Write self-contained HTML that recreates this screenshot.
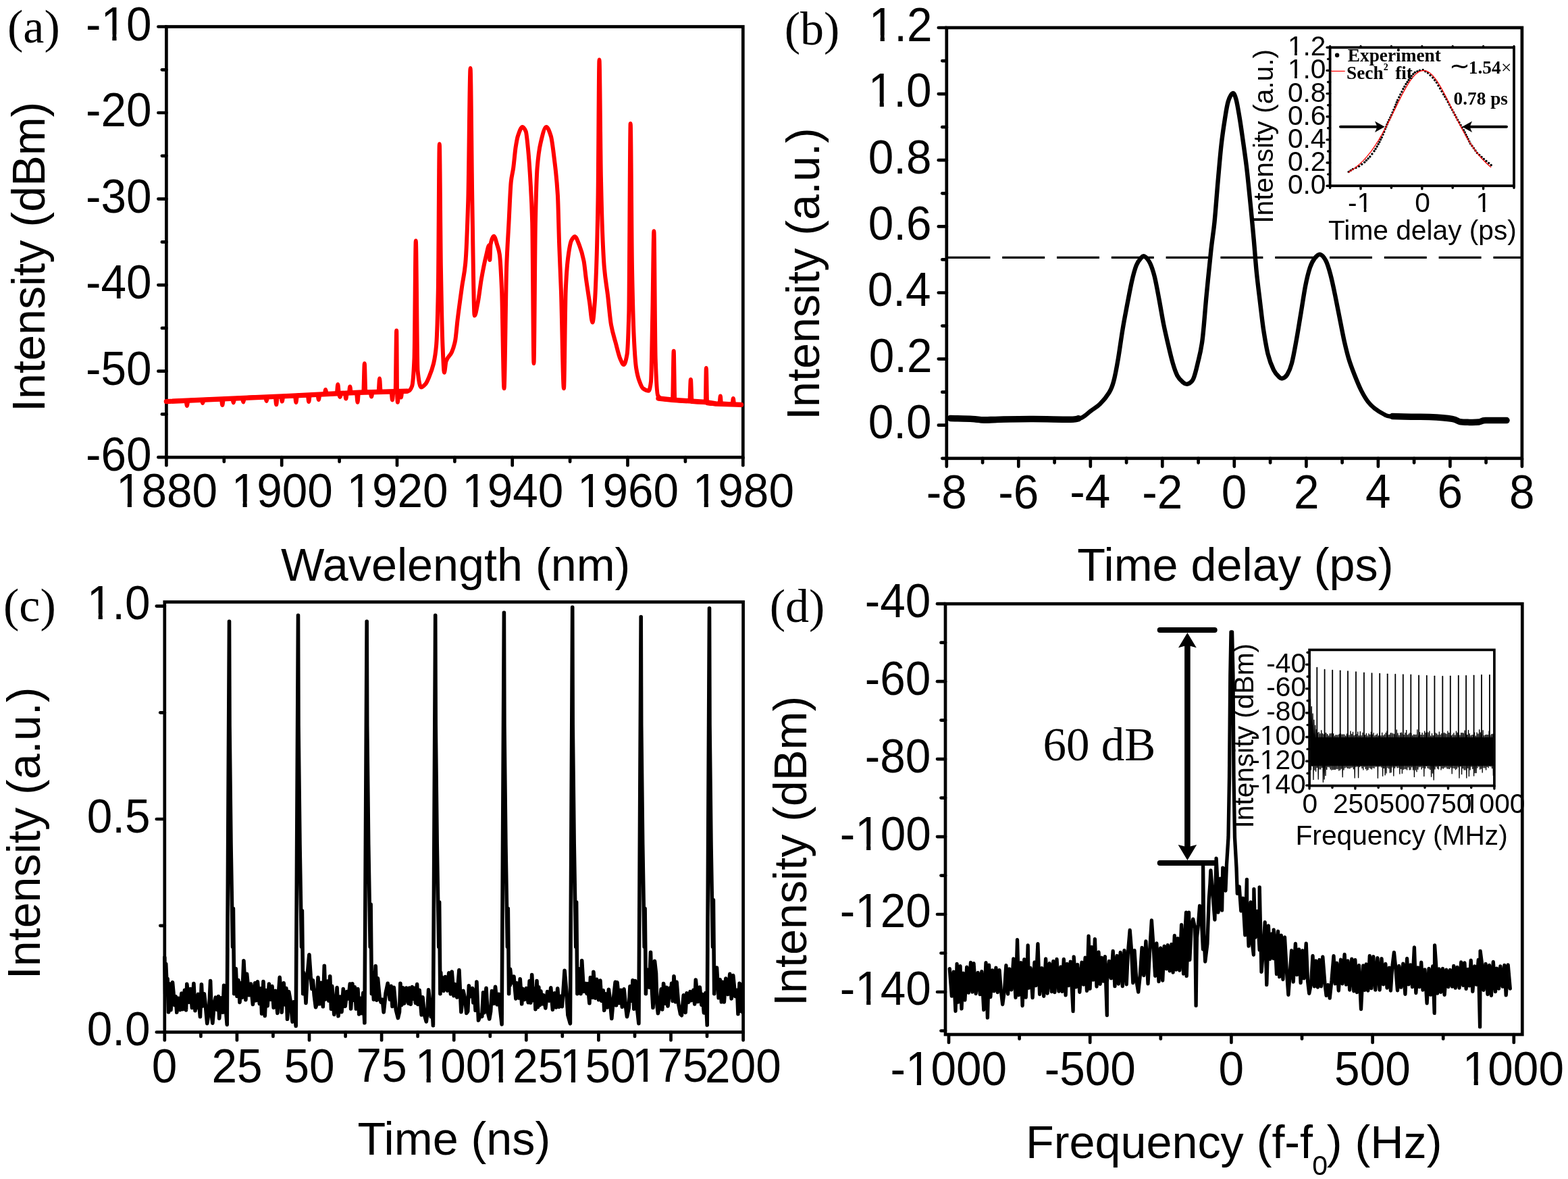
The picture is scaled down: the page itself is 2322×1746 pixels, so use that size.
<!DOCTYPE html><html><head><meta charset="utf-8"><style>html,body{margin:0;padding:0;background:#fff;}svg{display:block}</style></head><body><svg width="2322" height="1746" viewBox="0 0 2322 1746"><rect width="2322" height="1746" fill="#fff"/><rect x="246.4" y="39.5" width="853.9" height="637.7" fill="none" stroke="#000" stroke-width="4.70"/><rect x="1401.8" y="41.0" width="852.1" height="637.8" fill="none" stroke="#000" stroke-width="4.70"/><rect x="243.8" y="891.5" width="856.8" height="637.0" fill="none" stroke="#000" stroke-width="4.70"/><rect x="1400.0" y="894.2" width="854.3" height="637.8" fill="none" stroke="#000" stroke-width="4.70"/><line x1="234.4" y1="677.2" x2="246.4" y2="677.2" stroke="#000" stroke-width="4.70" stroke-linecap="round"/><line x1="234.4" y1="549.7" x2="246.4" y2="549.7" stroke="#000" stroke-width="4.70" stroke-linecap="round"/><line x1="234.4" y1="422.1" x2="246.4" y2="422.1" stroke="#000" stroke-width="4.70" stroke-linecap="round"/><line x1="234.4" y1="294.6" x2="246.4" y2="294.6" stroke="#000" stroke-width="4.70" stroke-linecap="round"/><line x1="234.4" y1="167.0" x2="246.4" y2="167.0" stroke="#000" stroke-width="4.70" stroke-linecap="round"/><line x1="234.4" y1="39.5" x2="246.4" y2="39.5" stroke="#000" stroke-width="4.70" stroke-linecap="round"/><line x1="239.9" y1="613.4" x2="246.4" y2="613.4" stroke="#000" stroke-width="4.70" stroke-linecap="round"/><line x1="239.9" y1="485.9" x2="246.4" y2="485.9" stroke="#000" stroke-width="4.70" stroke-linecap="round"/><line x1="239.9" y1="358.4" x2="246.4" y2="358.4" stroke="#000" stroke-width="4.70" stroke-linecap="round"/><line x1="239.9" y1="230.8" x2="246.4" y2="230.8" stroke="#000" stroke-width="4.70" stroke-linecap="round"/><line x1="239.9" y1="103.3" x2="246.4" y2="103.3" stroke="#000" stroke-width="4.70" stroke-linecap="round"/><line x1="246.4" y1="677.2" x2="246.4" y2="689.2" stroke="#000" stroke-width="4.70" stroke-linecap="round"/><line x1="417.2" y1="677.2" x2="417.2" y2="689.2" stroke="#000" stroke-width="4.70" stroke-linecap="round"/><line x1="588.0" y1="677.2" x2="588.0" y2="689.2" stroke="#000" stroke-width="4.70" stroke-linecap="round"/><line x1="758.7" y1="677.2" x2="758.7" y2="689.2" stroke="#000" stroke-width="4.70" stroke-linecap="round"/><line x1="929.5" y1="677.2" x2="929.5" y2="689.2" stroke="#000" stroke-width="4.70" stroke-linecap="round"/><line x1="1100.3" y1="677.2" x2="1100.3" y2="689.2" stroke="#000" stroke-width="4.70" stroke-linecap="round"/><line x1="331.8" y1="677.2" x2="331.8" y2="683.7" stroke="#000" stroke-width="4.70" stroke-linecap="round"/><line x1="502.6" y1="677.2" x2="502.6" y2="683.7" stroke="#000" stroke-width="4.70" stroke-linecap="round"/><line x1="673.4" y1="677.2" x2="673.4" y2="683.7" stroke="#000" stroke-width="4.70" stroke-linecap="round"/><line x1="844.1" y1="677.2" x2="844.1" y2="683.7" stroke="#000" stroke-width="4.70" stroke-linecap="round"/><line x1="1014.9" y1="677.2" x2="1014.9" y2="683.7" stroke="#000" stroke-width="4.70" stroke-linecap="round"/><line x1="1389.8" y1="629.7" x2="1401.8" y2="629.7" stroke="#000" stroke-width="4.70" stroke-linecap="round"/><line x1="1389.8" y1="531.6" x2="1401.8" y2="531.6" stroke="#000" stroke-width="4.70" stroke-linecap="round"/><line x1="1389.8" y1="433.5" x2="1401.8" y2="433.5" stroke="#000" stroke-width="4.70" stroke-linecap="round"/><line x1="1389.8" y1="335.4" x2="1401.8" y2="335.4" stroke="#000" stroke-width="4.70" stroke-linecap="round"/><line x1="1389.8" y1="237.2" x2="1401.8" y2="237.2" stroke="#000" stroke-width="4.70" stroke-linecap="round"/><line x1="1389.8" y1="139.1" x2="1401.8" y2="139.1" stroke="#000" stroke-width="4.70" stroke-linecap="round"/><line x1="1389.8" y1="41.0" x2="1401.8" y2="41.0" stroke="#000" stroke-width="4.70" stroke-linecap="round"/><line x1="1395.3" y1="678.8" x2="1401.8" y2="678.8" stroke="#000" stroke-width="4.70" stroke-linecap="round"/><line x1="1395.3" y1="580.7" x2="1401.8" y2="580.7" stroke="#000" stroke-width="4.70" stroke-linecap="round"/><line x1="1395.3" y1="482.6" x2="1401.8" y2="482.6" stroke="#000" stroke-width="4.70" stroke-linecap="round"/><line x1="1395.3" y1="384.4" x2="1401.8" y2="384.4" stroke="#000" stroke-width="4.70" stroke-linecap="round"/><line x1="1395.3" y1="286.3" x2="1401.8" y2="286.3" stroke="#000" stroke-width="4.70" stroke-linecap="round"/><line x1="1395.3" y1="188.2" x2="1401.8" y2="188.2" stroke="#000" stroke-width="4.70" stroke-linecap="round"/><line x1="1395.3" y1="90.1" x2="1401.8" y2="90.1" stroke="#000" stroke-width="4.70" stroke-linecap="round"/><line x1="1401.8" y1="678.8" x2="1401.8" y2="690.8" stroke="#000" stroke-width="4.70" stroke-linecap="round"/><line x1="1508.3" y1="678.8" x2="1508.3" y2="690.8" stroke="#000" stroke-width="4.70" stroke-linecap="round"/><line x1="1614.8" y1="678.8" x2="1614.8" y2="690.8" stroke="#000" stroke-width="4.70" stroke-linecap="round"/><line x1="1721.3" y1="678.8" x2="1721.3" y2="690.8" stroke="#000" stroke-width="4.70" stroke-linecap="round"/><line x1="1827.8" y1="678.8" x2="1827.8" y2="690.8" stroke="#000" stroke-width="4.70" stroke-linecap="round"/><line x1="1934.4" y1="678.8" x2="1934.4" y2="690.8" stroke="#000" stroke-width="4.70" stroke-linecap="round"/><line x1="2040.9" y1="678.8" x2="2040.9" y2="690.8" stroke="#000" stroke-width="4.70" stroke-linecap="round"/><line x1="2147.4" y1="678.8" x2="2147.4" y2="690.8" stroke="#000" stroke-width="4.70" stroke-linecap="round"/><line x1="2253.9" y1="678.8" x2="2253.9" y2="690.8" stroke="#000" stroke-width="4.70" stroke-linecap="round"/><line x1="1455.1" y1="678.8" x2="1455.1" y2="685.3" stroke="#000" stroke-width="4.70" stroke-linecap="round"/><line x1="1561.6" y1="678.8" x2="1561.6" y2="685.3" stroke="#000" stroke-width="4.70" stroke-linecap="round"/><line x1="1668.1" y1="678.8" x2="1668.1" y2="685.3" stroke="#000" stroke-width="4.70" stroke-linecap="round"/><line x1="1774.6" y1="678.8" x2="1774.6" y2="685.3" stroke="#000" stroke-width="4.70" stroke-linecap="round"/><line x1="1881.1" y1="678.8" x2="1881.1" y2="685.3" stroke="#000" stroke-width="4.70" stroke-linecap="round"/><line x1="1987.6" y1="678.8" x2="1987.6" y2="685.3" stroke="#000" stroke-width="4.70" stroke-linecap="round"/><line x1="2094.1" y1="678.8" x2="2094.1" y2="685.3" stroke="#000" stroke-width="4.70" stroke-linecap="round"/><line x1="2200.6" y1="678.8" x2="2200.6" y2="685.3" stroke="#000" stroke-width="4.70" stroke-linecap="round"/><line x1="231.8" y1="1528.5" x2="243.8" y2="1528.5" stroke="#000" stroke-width="4.70" stroke-linecap="round"/><line x1="231.8" y1="1213.0" x2="243.8" y2="1213.0" stroke="#000" stroke-width="4.70" stroke-linecap="round"/><line x1="231.8" y1="897.6" x2="243.8" y2="897.6" stroke="#000" stroke-width="4.70" stroke-linecap="round"/><line x1="237.3" y1="1370.8" x2="243.8" y2="1370.8" stroke="#000" stroke-width="4.70" stroke-linecap="round"/><line x1="237.3" y1="1055.3" x2="243.8" y2="1055.3" stroke="#000" stroke-width="4.70" stroke-linecap="round"/><line x1="243.8" y1="1528.5" x2="243.8" y2="1540.5" stroke="#000" stroke-width="4.70" stroke-linecap="round"/><line x1="350.9" y1="1528.5" x2="350.9" y2="1540.5" stroke="#000" stroke-width="4.70" stroke-linecap="round"/><line x1="458.0" y1="1528.5" x2="458.0" y2="1540.5" stroke="#000" stroke-width="4.70" stroke-linecap="round"/><line x1="565.1" y1="1528.5" x2="565.1" y2="1540.5" stroke="#000" stroke-width="4.70" stroke-linecap="round"/><line x1="672.2" y1="1528.5" x2="672.2" y2="1540.5" stroke="#000" stroke-width="4.70" stroke-linecap="round"/><line x1="779.3" y1="1528.5" x2="779.3" y2="1540.5" stroke="#000" stroke-width="4.70" stroke-linecap="round"/><line x1="886.4" y1="1528.5" x2="886.4" y2="1540.5" stroke="#000" stroke-width="4.70" stroke-linecap="round"/><line x1="993.5" y1="1528.5" x2="993.5" y2="1540.5" stroke="#000" stroke-width="4.70" stroke-linecap="round"/><line x1="1100.6" y1="1528.5" x2="1100.6" y2="1540.5" stroke="#000" stroke-width="4.70" stroke-linecap="round"/><line x1="297.4" y1="1528.5" x2="297.4" y2="1535.0" stroke="#000" stroke-width="4.70" stroke-linecap="round"/><line x1="404.4" y1="1528.5" x2="404.4" y2="1535.0" stroke="#000" stroke-width="4.70" stroke-linecap="round"/><line x1="511.6" y1="1528.5" x2="511.6" y2="1535.0" stroke="#000" stroke-width="4.70" stroke-linecap="round"/><line x1="618.6" y1="1528.5" x2="618.6" y2="1535.0" stroke="#000" stroke-width="4.70" stroke-linecap="round"/><line x1="725.8" y1="1528.5" x2="725.8" y2="1535.0" stroke="#000" stroke-width="4.70" stroke-linecap="round"/><line x1="832.8" y1="1528.5" x2="832.8" y2="1535.0" stroke="#000" stroke-width="4.70" stroke-linecap="round"/><line x1="940.0" y1="1528.5" x2="940.0" y2="1535.0" stroke="#000" stroke-width="4.70" stroke-linecap="round"/><line x1="1047.0" y1="1528.5" x2="1047.0" y2="1535.0" stroke="#000" stroke-width="4.70" stroke-linecap="round"/><line x1="1388.0" y1="1469.0" x2="1400.0" y2="1469.0" stroke="#000" stroke-width="4.70" stroke-linecap="round"/><line x1="1388.0" y1="1354.0" x2="1400.0" y2="1354.0" stroke="#000" stroke-width="4.70" stroke-linecap="round"/><line x1="1388.0" y1="1239.1" x2="1400.0" y2="1239.1" stroke="#000" stroke-width="4.70" stroke-linecap="round"/><line x1="1388.0" y1="1124.1" x2="1400.0" y2="1124.1" stroke="#000" stroke-width="4.70" stroke-linecap="round"/><line x1="1388.0" y1="1009.2" x2="1400.0" y2="1009.2" stroke="#000" stroke-width="4.70" stroke-linecap="round"/><line x1="1388.0" y1="894.2" x2="1400.0" y2="894.2" stroke="#000" stroke-width="4.70" stroke-linecap="round"/><line x1="1393.5" y1="1526.5" x2="1400.0" y2="1526.5" stroke="#000" stroke-width="4.70" stroke-linecap="round"/><line x1="1393.5" y1="1411.5" x2="1400.0" y2="1411.5" stroke="#000" stroke-width="4.70" stroke-linecap="round"/><line x1="1393.5" y1="1296.6" x2="1400.0" y2="1296.6" stroke="#000" stroke-width="4.70" stroke-linecap="round"/><line x1="1393.5" y1="1181.6" x2="1400.0" y2="1181.6" stroke="#000" stroke-width="4.70" stroke-linecap="round"/><line x1="1393.5" y1="1066.6" x2="1400.0" y2="1066.6" stroke="#000" stroke-width="4.70" stroke-linecap="round"/><line x1="1393.5" y1="951.7" x2="1400.0" y2="951.7" stroke="#000" stroke-width="4.70" stroke-linecap="round"/><line x1="1405.0" y1="1532.0" x2="1405.0" y2="1544.0" stroke="#000" stroke-width="4.70" stroke-linecap="round"/><line x1="1614.2" y1="1532.0" x2="1614.2" y2="1544.0" stroke="#000" stroke-width="4.70" stroke-linecap="round"/><line x1="1823.4" y1="1532.0" x2="1823.4" y2="1544.0" stroke="#000" stroke-width="4.70" stroke-linecap="round"/><line x1="2032.6" y1="1532.0" x2="2032.6" y2="1544.0" stroke="#000" stroke-width="4.70" stroke-linecap="round"/><line x1="2241.8" y1="1532.0" x2="2241.8" y2="1544.0" stroke="#000" stroke-width="4.70" stroke-linecap="round"/><line x1="1509.6" y1="1532.0" x2="1509.6" y2="1538.5" stroke="#000" stroke-width="4.70" stroke-linecap="round"/><line x1="1718.8" y1="1532.0" x2="1718.8" y2="1538.5" stroke="#000" stroke-width="4.70" stroke-linecap="round"/><line x1="1928.0" y1="1532.0" x2="1928.0" y2="1538.5" stroke="#000" stroke-width="4.70" stroke-linecap="round"/><line x1="2137.2" y1="1532.0" x2="2137.2" y2="1538.5" stroke="#000" stroke-width="4.70" stroke-linecap="round"/><text x="0" y="0" transform="translate(127.0 697.2) scale(1 1.030)" font-family='"Liberation Sans", Arial, sans-serif' font-size="67.5" font-weight="normal" fill="#000">-60</text><text x="0" y="0" transform="translate(127.0 569.7) scale(1 1.030)" font-family='"Liberation Sans", Arial, sans-serif' font-size="67.5" font-weight="normal" fill="#000">-50</text><text x="0" y="0" transform="translate(127.0 442.1) scale(1 1.030)" font-family='"Liberation Sans", Arial, sans-serif' font-size="67.5" font-weight="normal" fill="#000">-40</text><text x="0" y="0" transform="translate(127.0 314.6) scale(1 1.030)" font-family='"Liberation Sans", Arial, sans-serif' font-size="67.5" font-weight="normal" fill="#000">-30</text><text x="0" y="0" transform="translate(127.0 187.0) scale(1 1.030)" font-family='"Liberation Sans", Arial, sans-serif' font-size="67.5" font-weight="normal" fill="#000">-20</text><clipPath id="cf105"><path clip-rule="evenodd" d="M-147.2,-149.3H485.7V269.9H-147.2ZM152.75,50.67H166.33V69.93H152.75ZM172.50,50.67H185.71V69.93H172.50Z"/></clipPath><g clip-path="url(#cf105)"><text x="0" y="0" transform="translate(127.0 59.5) scale(1 1.030)" font-family='"Liberation Sans", Arial, sans-serif' font-size="67.5" font-weight="normal" fill="#000">-10</text></g><clipPath id="cf106"><path clip-rule="evenodd" d="M-124.8,542.6H508.2V961.8H-124.8ZM175.20,742.57H188.77V761.83H175.20ZM194.94,742.57H208.15V761.83H194.94Z"/></clipPath><g clip-path="url(#cf106)"><text x="0" y="0" transform="translate(171.9 751.4) scale(1 1.030)" font-family='"Liberation Sans", Arial, sans-serif' font-size="67.5" font-weight="normal" fill="#000">1880</text></g><clipPath id="cf107"><path clip-rule="evenodd" d="M46.0,542.6H679.0V961.8H46.0ZM346.00,742.57H359.58V761.83H346.00ZM365.74,742.57H378.95V761.83H365.74Z"/></clipPath><g clip-path="url(#cf107)"><text x="0" y="0" transform="translate(342.7 751.4) scale(1 1.030)" font-family='"Liberation Sans", Arial, sans-serif' font-size="67.5" font-weight="normal" fill="#000">1900</text></g><clipPath id="cf108"><path clip-rule="evenodd" d="M216.8,542.6H849.8V961.8H216.8ZM516.80,742.57H530.38V761.83H516.80ZM536.54,742.57H549.75V761.83H536.54Z"/></clipPath><g clip-path="url(#cf108)"><text x="0" y="0" transform="translate(513.5 751.4) scale(1 1.030)" font-family='"Liberation Sans", Arial, sans-serif' font-size="67.5" font-weight="normal" fill="#000">1920</text></g><clipPath id="cf109"><path clip-rule="evenodd" d="M387.5,542.6H1020.5V961.8H387.5ZM687.50,742.57H701.08V761.83H687.50ZM707.24,742.57H720.45V761.83H707.24Z"/></clipPath><g clip-path="url(#cf109)"><text x="0" y="0" transform="translate(684.2 751.4) scale(1 1.030)" font-family='"Liberation Sans", Arial, sans-serif' font-size="67.5" font-weight="normal" fill="#000">1940</text></g><clipPath id="cf110"><path clip-rule="evenodd" d="M558.3,542.6H1191.3V961.8H558.3ZM858.30,742.57H871.88V761.83H858.30ZM878.04,742.57H891.25V761.83H878.04Z"/></clipPath><g clip-path="url(#cf110)"><text x="0" y="0" transform="translate(855.0 751.4) scale(1 1.030)" font-family='"Liberation Sans", Arial, sans-serif' font-size="67.5" font-weight="normal" fill="#000">1960</text></g><clipPath id="cf111"><path clip-rule="evenodd" d="M729.1,542.6H1362.1V961.8H729.1ZM1029.10,742.57H1042.68V761.83H1029.10ZM1048.84,742.57H1062.05V761.83H1048.84Z"/></clipPath><g clip-path="url(#cf111)"><text x="0" y="0" transform="translate(1025.8 751.4) scale(1 1.030)" font-family='"Liberation Sans", Arial, sans-serif' font-size="67.5" font-weight="normal" fill="#000">1980</text></g><text x="0" y="0" transform="translate(1285.8 649.0) scale(1 1.030)" font-family='"Liberation Sans", Arial, sans-serif' font-size="67.5" font-weight="normal" fill="#000">0.0</text><text x="0" y="0" transform="translate(1286.8 550.9) scale(1 1.030)" font-family='"Liberation Sans", Arial, sans-serif' font-size="67.5" font-weight="normal" fill="#000">0.2</text><text x="0" y="0" transform="translate(1284.8 452.8) scale(1 1.030)" font-family='"Liberation Sans", Arial, sans-serif' font-size="67.5" font-weight="normal" fill="#000">0.4</text><text x="0" y="0" transform="translate(1285.8 354.7) scale(1 1.030)" font-family='"Liberation Sans", Arial, sans-serif' font-size="67.5" font-weight="normal" fill="#000">0.6</text><text x="0" y="0" transform="translate(1285.8 256.5) scale(1 1.030)" font-family='"Liberation Sans", Arial, sans-serif' font-size="67.5" font-weight="normal" fill="#000">0.8</text><clipPath id="cf117"><path clip-rule="evenodd" d="M989.1,-50.4H1622.1V368.8H989.1ZM1289.10,149.57H1302.68V168.83H1289.10ZM1308.84,149.57H1322.05V168.83H1308.84Z"/></clipPath><g clip-path="url(#cf117)"><text x="0" y="0" transform="translate(1285.8 158.4) scale(1 1.030)" font-family='"Liberation Sans", Arial, sans-serif' font-size="67.5" font-weight="normal" fill="#000">1.0</text></g><clipPath id="cf118"><path clip-rule="evenodd" d="M990.1,-148.0H1623.1V271.2H990.1ZM1290.10,51.97H1303.68V71.23H1290.10ZM1309.84,51.97H1323.05V71.23H1309.84Z"/></clipPath><g clip-path="url(#cf118)"><text x="0" y="0" transform="translate(1286.8 60.8) scale(1 1.030)" font-family='"Liberation Sans", Arial, sans-serif' font-size="67.5" font-weight="normal" fill="#000">1.2</text></g><text x="0" y="0" transform="translate(1371.8 753.4) scale(1 1.030)" font-family='"Liberation Sans", Arial, sans-serif' font-size="67.5" font-weight="normal" fill="#000">-8</text><text x="0" y="0" transform="translate(1478.3 753.4) scale(1 1.030)" font-family='"Liberation Sans", Arial, sans-serif' font-size="67.5" font-weight="normal" fill="#000">-6</text><text x="0" y="0" transform="translate(1584.3 752.4) scale(1 1.030)" font-family='"Liberation Sans", Arial, sans-serif' font-size="67.5" font-weight="normal" fill="#000">-4</text><text x="0" y="0" transform="translate(1691.3 753.4) scale(1 1.030)" font-family='"Liberation Sans", Arial, sans-serif' font-size="67.5" font-weight="normal" fill="#000">-2</text><text x="0" y="0" transform="translate(1808.8 753.4) scale(1 1.030)" font-family='"Liberation Sans", Arial, sans-serif' font-size="67.5" font-weight="normal" fill="#000">0</text><text x="0" y="0" transform="translate(1915.9 753.4) scale(1 1.030)" font-family='"Liberation Sans", Arial, sans-serif' font-size="67.5" font-weight="normal" fill="#000">2</text><text x="0" y="0" transform="translate(2021.9 752.4) scale(1 1.030)" font-family='"Liberation Sans", Arial, sans-serif' font-size="67.5" font-weight="normal" fill="#000">4</text><text x="0" y="0" transform="translate(2128.4 752.4) scale(1 1.030)" font-family='"Liberation Sans", Arial, sans-serif' font-size="67.5" font-weight="normal" fill="#000">6</text><text x="0" y="0" transform="translate(2234.9 753.4) scale(1 1.030)" font-family='"Liberation Sans", Arial, sans-serif' font-size="67.5" font-weight="normal" fill="#000">8</text><text x="0" y="0" transform="translate(128.8 1548.0) scale(1 1.030)" font-family='"Liberation Sans", Arial, sans-serif' font-size="67.5" font-weight="normal" fill="#000">0.0</text><text x="0" y="0" transform="translate(128.8 1232.5) scale(1 1.030)" font-family='"Liberation Sans", Arial, sans-serif' font-size="67.5" font-weight="normal" fill="#000">0.5</text><clipPath id="cf130"><path clip-rule="evenodd" d="M-167.9,708.3H465.1V1127.5H-167.9ZM132.10,908.27H145.68V927.53H132.10ZM151.84,908.27H165.05V927.53H151.84Z"/></clipPath><g clip-path="url(#cf130)"><text x="0" y="0" transform="translate(128.8 917.1) scale(1 1.030)" font-family='"Liberation Sans", Arial, sans-serif' font-size="67.5" font-weight="normal" fill="#000">1.0</text></g><text x="0" y="0" transform="translate(224.8 1602.8) scale(1 1.030)" font-family='"Liberation Sans", Arial, sans-serif' font-size="67.5" font-weight="normal" fill="#000">0</text><text x="0" y="0" transform="translate(313.4 1602.8) scale(1 1.030)" font-family='"Liberation Sans", Arial, sans-serif' font-size="67.5" font-weight="normal" fill="#000">25</text><text x="0" y="0" transform="translate(420.5 1602.8) scale(1 1.030)" font-family='"Liberation Sans", Arial, sans-serif' font-size="67.5" font-weight="normal" fill="#000">50</text><text x="0" y="0" transform="translate(527.6 1601.8) scale(1 1.030)" font-family='"Liberation Sans", Arial, sans-serif' font-size="67.5" font-weight="normal" fill="#000">75</text><clipPath id="cf135"><path clip-rule="evenodd" d="M318.0,1394.0H951.0V1813.2H318.0ZM618.00,1593.97H631.58V1613.23H618.00ZM637.74,1593.97H650.95V1613.23H637.74Z"/></clipPath><g clip-path="url(#cf135)"><text x="0" y="0" transform="translate(614.7 1602.8) scale(1 1.030)" font-family='"Liberation Sans", Arial, sans-serif' font-size="67.5" font-weight="normal" fill="#000">100</text></g><clipPath id="cf136"><path clip-rule="evenodd" d="M425.1,1394.0H1058.1V1813.2H425.1ZM725.10,1593.97H738.67V1613.23H725.10ZM744.84,1593.97H758.05V1613.23H744.84Z"/></clipPath><g clip-path="url(#cf136)"><text x="0" y="0" transform="translate(721.8 1602.8) scale(1 1.030)" font-family='"Liberation Sans", Arial, sans-serif' font-size="67.5" font-weight="normal" fill="#000">125</text></g><clipPath id="cf137"><path clip-rule="evenodd" d="M532.2,1394.0H1165.2V1813.2H532.2ZM832.20,1593.97H845.78V1613.23H832.20ZM851.94,1593.97H865.15V1613.23H851.94Z"/></clipPath><g clip-path="url(#cf137)"><text x="0" y="0" transform="translate(828.9 1602.8) scale(1 1.030)" font-family='"Liberation Sans", Arial, sans-serif' font-size="67.5" font-weight="normal" fill="#000">150</text></g><clipPath id="cf138"><path clip-rule="evenodd" d="M639.3,1393.0H1272.3V1812.2H639.3ZM939.30,1592.97H952.88V1612.23H939.30ZM959.04,1592.97H972.25V1612.23H959.04Z"/></clipPath><g clip-path="url(#cf138)"><text x="0" y="0" transform="translate(936.0 1601.8) scale(1 1.030)" font-family='"Liberation Sans", Arial, sans-serif' font-size="67.5" font-weight="normal" fill="#000">175</text></g><text x="0" y="0" transform="translate(1044.1 1602.8) scale(1 1.030)" font-family='"Liberation Sans", Arial, sans-serif' font-size="67.5" font-weight="normal" fill="#000">200</text><clipPath id="cf140"><path clip-rule="evenodd" d="M969.6,1279.6H1602.5V1698.8H969.6ZM1269.55,1479.57H1283.13V1498.83H1269.55ZM1289.30,1479.57H1302.51V1498.83H1289.30Z"/></clipPath><g clip-path="url(#cf140)"><text x="0" y="0" transform="translate(1243.8 1488.4) scale(1 1.030)" font-family='"Liberation Sans", Arial, sans-serif' font-size="67.5" font-weight="normal" fill="#000">-140</text></g><clipPath id="cf141"><path clip-rule="evenodd" d="M969.6,1164.6H1602.5V1583.8H969.6ZM1269.55,1364.57H1283.13V1383.83H1269.55ZM1289.30,1364.57H1302.51V1383.83H1289.30Z"/></clipPath><g clip-path="url(#cf141)"><text x="0" y="0" transform="translate(1243.8 1373.4) scale(1 1.030)" font-family='"Liberation Sans", Arial, sans-serif' font-size="67.5" font-weight="normal" fill="#000">-120</text></g><clipPath id="cf142"><path clip-rule="evenodd" d="M969.6,1049.7H1602.5V1468.9H969.6ZM1269.55,1249.67H1283.13V1268.93H1269.55ZM1289.30,1249.67H1302.51V1268.93H1289.30Z"/></clipPath><g clip-path="url(#cf142)"><text x="0" y="0" transform="translate(1243.8 1258.5) scale(1 1.030)" font-family='"Liberation Sans", Arial, sans-serif' font-size="67.5" font-weight="normal" fill="#000">-100</text></g><text x="0" y="0" transform="translate(1280.8 1143.5) scale(1 1.030)" font-family='"Liberation Sans", Arial, sans-serif' font-size="67.5" font-weight="normal" fill="#000">-80</text><text x="0" y="0" transform="translate(1280.8 1028.5) scale(1 1.030)" font-family='"Liberation Sans", Arial, sans-serif' font-size="67.5" font-weight="normal" fill="#000">-60</text><text x="0" y="0" transform="translate(1280.8 913.6) scale(1 1.030)" font-family='"Liberation Sans", Arial, sans-serif' font-size="67.5" font-weight="normal" fill="#000">-40</text><clipPath id="cf146"><path clip-rule="evenodd" d="M1044.3,1397.8H1677.2V1817.0H1044.3ZM1344.25,1597.77H1357.83V1617.03H1344.25ZM1364.00,1597.77H1377.21V1617.03H1364.00Z"/></clipPath><g clip-path="url(#cf146)"><text x="0" y="0" transform="translate(1318.5 1606.6) scale(1 1.030)" font-family='"Liberation Sans", Arial, sans-serif' font-size="67.5" font-weight="normal" fill="#000">-1000</text></g><text x="0" y="0" transform="translate(1546.7 1606.6) scale(1 1.030)" font-family='"Liberation Sans", Arial, sans-serif' font-size="67.5" font-weight="normal" fill="#000">-500</text><text x="0" y="0" transform="translate(1804.4 1606.6) scale(1 1.030)" font-family='"Liberation Sans", Arial, sans-serif' font-size="67.5" font-weight="normal" fill="#000">0</text><text x="0" y="0" transform="translate(1976.1 1606.6) scale(1 1.030)" font-family='"Liberation Sans", Arial, sans-serif' font-size="67.5" font-weight="normal" fill="#000">500</text><clipPath id="cf150"><path clip-rule="evenodd" d="M1869.1,1397.8H2502.1V1817.0H1869.1ZM2169.10,1597.77H2182.68V1617.03H2169.10ZM2188.84,1597.77H2202.05V1617.03H2188.84Z"/></clipPath><g clip-path="url(#cf150)"><text x="0" y="0" transform="translate(2165.8 1606.6) scale(1 1.030)" font-family='"Liberation Sans", Arial, sans-serif' font-size="67.5" font-weight="normal" fill="#000">1000</text></g><text x="415.9" y="859.6" font-family='"Liberation Sans", Arial, sans-serif' font-size="68.3" font-weight="normal" fill="#000">Wavelength (nm)</text><text x="1595.3" y="860.1" font-family='"Liberation Sans", Arial, sans-serif' font-size="68.3" font-weight="normal" fill="#000">Time delay (ps)</text><text x="529.4" y="1709.9" font-family='"Liberation Sans", Arial, sans-serif' font-size="68.3" font-weight="normal" fill="#000">Time (ns)</text><text x="0" y="0" transform="translate(66.1 609.9) rotate(-90)" font-family='"Liberation Sans", Arial, sans-serif' font-size="68.3" font-weight="normal" fill="#000">Intensity (dBm)</text><text x="0" y="0" transform="translate(1213.1 622.0) rotate(-90)" font-family='"Liberation Sans", Arial, sans-serif' font-size="68.3" font-weight="normal" fill="#000">Intensity (a.u.)</text><text x="0" y="0" transform="translate(59.2 1450.3) rotate(-90)" font-family='"Liberation Sans", Arial, sans-serif' font-size="68.3" font-weight="normal" fill="#000">Intensity (a.u.)</text><text x="0" y="0" transform="translate(1193.7 1490.0) rotate(-90)" font-family='"Liberation Sans", Arial, sans-serif' font-size="68.3" font-weight="normal" fill="#000">Intensity (dBm)</text><text x="11.0" y="62.8" font-family='"Liberation Serif", "Times New Roman", serif' font-size="70" font-weight="normal" fill="#000">(a)</text><text x="1161.8" y="66.2" font-family='"Liberation Serif", "Times New Roman", serif' font-size="70" font-weight="normal" fill="#000">(b)</text><text x="5.0" y="919.9" font-family='"Liberation Serif", "Times New Roman", serif' font-size="70" font-weight="normal" fill="#000">(c)</text><text x="1139.8" y="921.1" font-family='"Liberation Serif", "Times New Roman", serif' font-size="70" font-weight="normal" fill="#000">(d)</text><text x="1519.0" y="1714.9" font-family='"Liberation Sans", Arial, sans-serif' font-size="68.3" font-weight="normal" fill="#000">Frequency (f-f</text><text x="1943.2" y="1739.9" font-family='"Liberation Sans", Arial, sans-serif' font-size="41" font-weight="normal" fill="#000">0</text><text x="1964.8" y="1714.9" font-family='"Liberation Sans", Arial, sans-serif' font-size="68.3" font-weight="normal" fill="#000">) (Hz)</text><path d="M246.4,594.6C256.0,594.2 265.7,593.3 275.3,593.3C275.8,593.3 276.4,601.0 276.9,601.0C277.4,601.0 278.0,593.2 278.5,593.2C285.2,592.3 291.8,592.3 298.5,592.3C299.0,592.3 299.6,597.0 300.1,597.0C300.6,597.0 301.2,592.2 301.7,592.1C310.4,591.0 319.0,590.9 327.7,590.9C328.2,590.9 328.8,600.1 329.3,600.1C329.8,600.1 330.4,590.9 330.9,590.8C335.3,590.3 339.7,590.2 344.1,590.2C344.6,590.2 345.2,596.5 345.7,596.5C346.2,596.5 346.8,590.1 347.3,590.1C351.1,589.6 354.9,589.6 358.7,589.6C359.2,589.6 359.8,595.5 360.3,595.5C360.8,595.5 361.4,589.5 361.9,589.4C372.3,588.1 382.6,588.0 393.0,588.0C393.5,588.0 394.1,594.0 394.6,594.0C395.1,594.0 395.7,587.9 396.2,587.9C400.0,587.4 403.8,587.4 407.6,587.4C408.1,587.4 408.7,599.3 409.2,599.3C409.7,599.3 410.3,587.3 410.8,587.2C412.6,587.0 414.4,587.0 416.2,587.0C416.7,587.0 417.3,594.5 417.8,594.5C418.3,594.5 418.9,586.9 419.4,586.8C425.2,586.1 431.0,586.0 436.8,586.0C437.3,586.0 437.9,596.0 438.4,596.0C438.9,596.0 439.5,585.9 440.0,585.8C445.2,585.1 450.5,585.1 455.7,585.1C456.2,585.1 456.8,595.0 457.3,595.0C457.8,595.0 458.4,585.0 458.9,584.9C462.7,584.4 466.5,584.3 470.3,584.3C470.8,584.3 471.4,592.0 471.9,592.0C472.4,592.0 473.0,584.2 473.5,584.2C475.9,583.9 478.2,584.1 480.6,583.8C481.1,583.7 481.7,576.9 482.2,576.9C482.7,576.9 483.3,583.6 483.8,583.6C488.8,583.6 493.7,583.6 498.7,582.9C499.2,582.8 499.8,569.2 500.3,569.2C500.8,569.2 501.4,580.4 501.9,582.7C502.5,585.4 503.1,588.0 503.7,588.0C504.2,588.0 504.8,582.6 505.3,582.5C507.1,582.3 508.9,582.3 510.7,582.3C511.2,582.3 511.8,590.5 512.3,590.5C512.8,590.5 513.4,582.2 513.9,582.1C514.8,582.0 515.8,582.1 516.7,582.0C517.2,581.9 517.8,572.6 518.3,572.6C518.8,572.6 519.4,581.8 519.9,581.8C522.6,581.8 525.2,581.4 527.9,581.4C528.4,581.4 529.0,595.8 529.5,595.8C530.0,595.8 530.6,581.3 531.1,581.2C533.5,581.1 535.8,581.2 538.2,581.0C538.7,581.0 539.3,538.3 539.8,538.3C540.3,538.3 540.9,580.9 541.4,580.9C543.8,580.9 546.1,580.7 548.5,580.7C549.0,580.7 549.6,587.5 550.1,587.5C550.6,587.5 551.2,580.6 551.7,580.6C554.6,580.4 557.6,580.6 560.5,580.3C561.0,580.3 561.6,560.6 562.1,560.6C562.6,560.6 563.2,580.2 563.7,580.2C568.9,580.2 574.2,579.8 579.4,579.8C579.9,579.8 580.5,592.4 581.0,592.4C581.5,592.4 582.1,579.7 582.6,579.7C583.6,579.6 584.6,579.7 585.6,579.6C586.1,579.5 586.7,489.4 587.2,489.4C587.5,489.4 587.8,570.3 588.0,579.5C588.3,588.7 588.6,595.8 588.9,595.8C589.4,595.8 590.0,579.5 590.5,579.4C591.1,579.4 591.7,579.4 592.3,579.4C592.8,579.4 593.4,588.5 593.9,588.5C594.4,588.5 595.0,579.3 595.5,579.3C598.7,579.0 601.8,579.2 605.0,579.0C606.7,578.9 608.4,576.4 610.1,572.0C611.2,569.1 612.4,556.0 613.5,531.5C614.3,514.9 615.0,356.4 615.8,356.4C616.7,356.4 617.6,539.3 618.5,548.4C620.2,565.6 621.9,573.6 623.6,573.6C625.8,573.6 628.1,571.1 630.3,568.6C632.0,566.7 633.6,562.5 635.3,558.5C637.6,553.1 639.8,548.0 642.1,538.3C643.4,532.6 644.8,526.6 646.1,511.3C647.0,501.0 647.9,474.0 648.8,430.5C649.5,398.3 650.1,213.3 650.8,213.3C651.5,213.3 652.2,355.5 652.9,396.8C653.8,449.9 654.7,493.8 655.6,514.7C656.4,532.5 657.1,551.7 657.9,551.7C658.8,551.7 659.7,537.5 660.6,534.9C663.4,526.9 666.2,527.6 669.0,521.4C670.7,517.6 672.4,513.0 674.1,504.6C675.2,499.0 676.4,483.6 677.5,474.3C679.7,455.9 682.0,439.7 684.2,423.8C685.9,412.0 687.5,407.8 689.2,390.1C690.6,375.6 691.9,341.8 693.3,295.8C694.4,258.8 695.5,101.1 696.6,101.1C697.5,101.1 698.4,242.0 699.3,295.8C700.4,363.6 701.6,467.5 702.7,467.5C704.4,467.5 706.1,455.8 707.8,447.3C709.5,439.0 711.1,423.3 712.8,413.7C715.1,400.7 717.3,389.0 719.6,380.0C721.3,373.4 722.9,363.1 724.6,363.1C724.8,363.1 725.1,385.0 725.3,385.0C725.7,385.0 726.1,364.1 726.5,362.0C728.1,353.5 729.7,349.7 731.3,349.7C733.0,349.7 734.7,357.7 736.4,363.1C737.5,366.7 738.7,369.3 739.8,376.6C740.9,383.6 742.0,404.6 743.1,430.5C744.2,457.2 745.4,575.3 746.5,575.3C747.7,575.3 748.9,430.6 750.1,396.8C751.2,364.8 752.4,351.0 753.5,329.4C754.6,308.4 755.7,278.7 756.8,268.8C757.9,258.6 759.1,256.7 760.2,248.6C761.3,240.5 762.5,225.6 763.6,218.3C764.7,211.2 765.8,204.8 766.9,201.5C769.2,194.7 771.4,188.0 773.7,188.0C775.4,188.0 777.0,190.7 778.7,194.7C779.8,197.4 781.0,210.3 782.1,221.7C783.2,233.1 784.4,249.2 785.5,268.8C786.4,284.4 787.3,296.5 788.2,329.4C789.0,357.4 789.7,538.3 790.5,538.3C791.3,538.3 792.1,365.4 792.9,329.4C793.8,288.9 794.7,260.0 795.6,248.6C797.3,227.6 798.9,218.7 800.6,211.6C803.4,199.7 806.2,188.0 809.0,188.0C811.3,188.0 813.5,194.4 815.8,201.5C817.5,206.8 819.1,221.4 820.8,235.1C822.5,249.1 824.2,260.1 825.9,289.0C826.7,302.0 827.4,341.5 828.2,363.1C829.1,388.5 830.0,404.5 830.9,430.5C832.3,470.0 833.6,575.3 835.0,575.3C835.9,575.3 836.8,451.2 837.7,430.5C838.8,405.2 839.9,392.1 841.0,383.3C842.7,369.8 844.4,359.8 846.1,356.4C847.8,353.1 849.4,350.3 851.1,350.3C853.4,350.3 855.6,357.5 857.9,363.1C860.1,368.6 862.4,375.3 864.6,386.7C865.7,392.5 866.9,405.4 868.0,413.7C869.7,425.9 871.3,436.0 873.0,447.3C874.5,457.3 875.9,477.6 877.4,477.6C878.5,477.6 879.7,462.1 880.8,447.3C881.6,437.3 882.3,418.9 883.1,396.8C883.9,373.8 884.7,344.3 885.5,295.8C886.2,255.4 886.8,88.6 887.5,88.6C888.3,88.6 889.1,223.3 889.9,262.1C890.7,299.3 891.4,327.2 892.2,346.3C893.1,368.8 894.0,386.3 894.9,396.8C896.6,416.5 898.3,423.1 900.0,437.2C901.7,451.1 903.3,471.7 905.0,481.0C907.3,493.6 909.5,499.6 911.8,508.0C914.0,516.3 916.3,526.5 918.5,531.5C920.2,535.3 921.9,540.0 923.6,540.0C925.3,540.0 926.9,534.5 928.6,524.8C929.5,519.6 930.4,498.6 931.3,464.2C932.1,433.7 932.9,182.9 933.7,182.9C934.5,182.9 935.2,355.4 936.0,396.8C936.9,445.4 937.8,479.4 938.7,497.9C939.8,521.2 941.0,537.7 942.1,545.0C943.8,555.8 945.4,560.8 947.1,565.2C948.8,569.7 950.5,574.1 952.2,575.3C955.0,577.3 957.8,578.7 960.6,578.7C961.7,578.7 962.9,573.9 964.0,565.2C964.8,559.3 965.5,502.6 966.3,464.2C967.0,429.1 967.7,342.3 968.4,342.3C969.2,342.3 969.9,510.2 970.7,531.5C971.8,563.0 973.0,583.1 974.1,585.4C975.8,588.8 977.4,590.1 979.1,590.5C984.7,591.7 990.4,592.2 996.0,592.2C996.6,592.2 997.1,519.8 997.7,519.8C998.2,519.8 998.8,592.1 999.3,592.2C1006.6,593.8 1013.9,593.9 1021.2,593.9C1021.8,593.9 1022.3,561.9 1022.9,561.9C1023.5,561.9 1024.0,594.9 1024.6,594.9C1031.3,595.5 1038.1,595.5 1044.8,595.5C1045.1,595.5 1045.5,545.0 1045.8,545.0C1046.3,545.0 1046.7,597.1 1047.2,597.2C1051.5,597.9 1055.7,598.0 1060.0,598.0C1061.8,598.0 1063.7,597.8 1065.5,597.0C1065.9,596.8 1066.4,586.6 1066.8,586.6C1067.2,586.6 1067.6,597.5 1068.0,597.5C1073.5,598.0 1079.0,598.0 1084.5,598.0C1084.9,598.0 1085.4,590.0 1085.8,590.0C1086.3,590.0 1086.7,598.4 1087.2,598.5C1090.6,599.3 1094.1,599.1 1097.5,599.4" fill="none" stroke="#ff0000" stroke-width="6.00" stroke-linejoin="round" stroke-linecap="round" /><polyline points="246.4,594.6 429.0,586.4 532.0,581.2 603.0,579.2" fill="none" stroke="#ff0000" stroke-width="7.40" stroke-linejoin="round" stroke-linecap="round" /><polyline points="975.0,590.0 996.0,592.2 1021.2,593.9 1044.8,595.5 1060.0,598.0 1097.5,599.4" fill="none" stroke="#ff0000" stroke-width="7.40" stroke-linejoin="round" stroke-linecap="round" /><path d="M1406.7,618.5C1408.9,618.7 1414.5,619.0 1420.0,619.5C1425.5,620.0 1433.8,620.8 1440.0,621.5C1446.2,622.2 1450.3,623.3 1457.0,623.5C1463.7,623.7 1472.8,622.8 1480.0,622.5C1487.2,622.2 1491.7,621.8 1500.0,621.5C1508.3,621.2 1520.0,621.0 1530.0,621.0C1540.0,621.0 1550.8,621.2 1560.0,621.5C1569.2,621.8 1578.0,623.0 1585.0,622.5C1592.0,622.0 1596.9,620.9 1602.0,618.5C1607.1,616.1 1611.0,611.8 1615.5,608.4C1620.0,605.0 1624.5,602.8 1629.0,598.3C1633.5,593.8 1639.0,587.1 1642.4,581.5C1645.8,575.9 1647.0,573.0 1649.2,564.6C1651.5,556.2 1653.7,543.9 1655.9,531.0C1658.1,518.1 1660.3,500.7 1662.6,487.2C1664.8,473.7 1667.2,462.0 1669.4,450.2C1671.7,438.4 1673.9,426.1 1676.1,416.5C1678.3,406.9 1680.5,398.6 1682.8,392.9C1685.0,387.2 1687.6,384.4 1689.6,382.2C1691.6,380.0 1692.4,378.3 1694.6,379.5C1696.8,380.7 1700.5,384.6 1703.0,389.6C1705.5,394.7 1707.5,400.8 1709.8,409.8C1712.0,418.8 1714.3,431.6 1716.5,443.4C1718.7,455.2 1721.0,469.3 1723.2,480.5C1725.5,491.7 1727.8,501.3 1730.0,510.8C1732.2,520.3 1734.5,530.1 1736.7,537.7C1738.9,545.3 1740.9,551.4 1743.4,556.2C1745.9,561.0 1749.4,564.2 1751.9,566.3C1754.4,568.4 1756.1,569.5 1758.6,568.7C1761.1,567.9 1764.5,566.5 1767.0,561.3C1769.5,556.1 1771.5,547.2 1773.7,537.7C1776.0,528.2 1778.3,520.8 1780.5,504.0C1782.7,487.2 1784.5,459.1 1786.7,436.7C1788.9,414.3 1791.5,387.3 1793.5,369.4C1795.5,351.4 1796.8,345.8 1798.5,329.0C1800.2,312.2 1801.9,287.5 1803.6,268.4C1805.3,249.3 1806.9,229.7 1808.6,214.5C1810.3,199.3 1812.0,188.1 1813.7,177.4C1815.4,166.7 1816.7,157.1 1818.7,150.5C1820.7,143.9 1823.5,138.6 1825.5,138.0C1827.5,137.4 1828.8,141.1 1830.5,147.1C1832.2,153.1 1833.9,164.0 1835.6,174.1C1837.3,184.2 1838.9,195.9 1840.6,207.7C1842.3,219.5 1844.3,233.6 1845.7,244.8C1847.1,256.0 1847.9,264.4 1849.0,275.1C1850.1,285.8 1851.1,295.3 1852.4,308.8C1853.7,322.3 1855.4,340.2 1856.8,355.9C1858.2,371.6 1859.3,387.9 1860.8,403.0C1862.3,418.1 1864.2,432.8 1865.9,446.8C1867.6,460.8 1869.0,474.3 1870.9,487.2C1872.9,500.1 1875.1,514.1 1877.6,524.2C1880.1,534.3 1883.3,542.1 1886.1,547.8C1888.9,553.5 1892.3,556.5 1894.5,558.6C1896.7,560.7 1897.5,561.0 1899.5,560.3C1901.5,559.6 1904.0,558.3 1906.3,554.5C1908.5,550.7 1910.8,546.1 1913.0,537.7C1915.2,529.3 1917.5,516.4 1919.7,504.0C1922.0,491.6 1924.2,477.1 1926.5,463.6C1928.8,450.1 1931.0,434.4 1933.2,423.2C1935.4,412.0 1937.7,403.0 1939.9,396.3C1942.2,389.6 1944.2,386.1 1946.7,382.8C1949.2,379.6 1952.3,376.2 1955.1,376.8C1957.9,377.4 1961.0,381.3 1963.5,386.2C1966.0,391.1 1968.0,398.0 1970.2,406.4C1972.5,414.8 1974.8,426.0 1977.0,436.7C1979.2,447.4 1981.5,459.2 1983.7,470.4C1985.9,481.6 1988.2,493.9 1990.4,504.0C1992.7,514.1 1994.7,522.6 1997.2,531.0C1999.7,539.4 2002.5,546.6 2005.6,554.5C2008.7,562.4 2012.3,571.4 2015.7,578.1C2019.1,584.8 2022.4,590.4 2025.8,594.9C2029.2,599.4 2032.0,601.9 2035.9,605.0C2039.8,608.1 2045.5,611.5 2049.4,613.5C2053.3,615.5 2052.7,616.1 2059.5,616.8C2066.3,617.5 2080.5,617.4 2090.0,617.5C2099.5,617.6 2106.6,617.0 2116.7,617.5C2126.8,618.0 2143.2,619.0 2150.4,620.2C2157.6,621.4 2155.9,623.6 2160.0,624.5C2164.1,625.4 2170.0,625.4 2175.0,625.5C2180.0,625.6 2185.8,625.8 2190.0,625.3C2194.2,624.8 2193.0,623.2 2200.0,622.8C2207.0,622.4 2226.7,622.8 2232.0,622.8" fill="none" stroke="#000" stroke-width="6.40" stroke-linejoin="round" stroke-linecap="round" /><path d="M1407.5,619.6C1412.9,619.8 1431.8,620.1 1440.0,620.5C1448.2,620.9 1450.3,621.7 1457.0,621.8C1463.7,621.9 1467.8,621.4 1480.0,621.2C1492.2,621.0 1512.5,620.6 1530.0,620.6C1547.5,620.6 1573.8,621.3 1585.0,621.2C1596.2,621.1 1595.0,620.0 1597.0,619.8" fill="none" stroke="#000" stroke-width="9.50" stroke-linejoin="round" stroke-linecap="round" /><path d="M2062.0,616.5C2066.7,616.6 2080.9,617.1 2090.0,617.3C2099.1,617.5 2106.6,617.1 2116.7,617.6C2126.8,618.1 2142.8,619.2 2150.4,620.4C2158.0,621.6 2157.7,623.8 2162.0,624.6C2166.3,625.4 2171.3,625.3 2176.0,625.4C2180.7,625.5 2186.0,625.5 2190.0,625.0C2194.0,624.5 2193.2,623.0 2200.0,622.6C2206.8,622.2 2225.8,622.6 2231.0,622.6" fill="none" stroke="#000" stroke-width="9.50" stroke-linejoin="round" stroke-linecap="round" /><line x1="1403.4" y1="381.3" x2="2252" y2="381.3" stroke="#000" stroke-width="3.2" stroke-dasharray="63 17.8"/><rect x="1969.6" y="70.3" width="272.4" height="204.9" fill="#fff" stroke="#000" stroke-width="3.8"/><line x1="1965.1" y1="275.2" x2="1969.6" y2="275.2" stroke="#000" stroke-width="3.40" stroke-linecap="round"/><text x="1906.9" y="287.2" font-family='"Liberation Sans", Arial, sans-serif' font-size="40.7" font-weight="normal" fill="#000">0.0</text><line x1="1965.1" y1="241.0" x2="1969.6" y2="241.0" stroke="#000" stroke-width="3.40" stroke-linecap="round"/><text x="1906.9" y="253.0" font-family='"Liberation Sans", Arial, sans-serif' font-size="40.7" font-weight="normal" fill="#000">0.2</text><line x1="1965.1" y1="206.9" x2="1969.6" y2="206.9" stroke="#000" stroke-width="3.40" stroke-linecap="round"/><text x="1906.9" y="218.9" font-family='"Liberation Sans", Arial, sans-serif' font-size="40.7" font-weight="normal" fill="#000">0.4</text><line x1="1965.1" y1="172.7" x2="1969.6" y2="172.7" stroke="#000" stroke-width="3.40" stroke-linecap="round"/><text x="1906.9" y="184.7" font-family='"Liberation Sans", Arial, sans-serif' font-size="40.7" font-weight="normal" fill="#000">0.6</text><line x1="1965.1" y1="138.6" x2="1969.6" y2="138.6" stroke="#000" stroke-width="3.40" stroke-linecap="round"/><text x="1906.9" y="150.6" font-family='"Liberation Sans", Arial, sans-serif' font-size="40.7" font-weight="normal" fill="#000">0.8</text><line x1="1965.1" y1="104.4" x2="1969.6" y2="104.4" stroke="#000" stroke-width="3.40" stroke-linecap="round"/><clipPath id="cf184"><path clip-rule="evenodd" d="M1608.9,-88.8H2228.8V322.5H1608.9ZM1908.89,111.23H1917.08V122.51H1908.89ZM1920.79,111.23H1928.76V122.51H1920.79Z"/></clipPath><g clip-path="url(#cf184)"><text x="1906.9" y="116.4" font-family='"Liberation Sans", Arial, sans-serif' font-size="40.7" font-weight="normal" fill="#000">1.0</text></g><line x1="1965.1" y1="70.3" x2="1969.6" y2="70.3" stroke="#000" stroke-width="3.40" stroke-linecap="round"/><clipPath id="cf186"><path clip-rule="evenodd" d="M1608.9,-122.9H2228.8V288.4H1608.9ZM1908.89,77.13H1917.08V88.41H1908.89ZM1920.79,77.13H1928.76V88.41H1920.79Z"/></clipPath><g clip-path="url(#cf186)"><text x="1906.9" y="82.3" font-family='"Liberation Sans", Arial, sans-serif' font-size="40.7" font-weight="normal" fill="#000">1.2</text></g><line x1="1966.6" y1="258.1" x2="1969.6" y2="258.1" stroke="#000" stroke-width="3.40" stroke-linecap="round"/><line x1="1966.6" y1="224.0" x2="1969.6" y2="224.0" stroke="#000" stroke-width="3.40" stroke-linecap="round"/><line x1="1966.6" y1="189.8" x2="1969.6" y2="189.8" stroke="#000" stroke-width="3.40" stroke-linecap="round"/><line x1="1966.6" y1="155.7" x2="1969.6" y2="155.7" stroke="#000" stroke-width="3.40" stroke-linecap="round"/><line x1="1966.6" y1="121.5" x2="1969.6" y2="121.5" stroke="#000" stroke-width="3.40" stroke-linecap="round"/><line x1="1966.6" y1="87.4" x2="1969.6" y2="87.4" stroke="#000" stroke-width="3.40" stroke-linecap="round"/><line x1="1969.6" y1="275.2" x2="1969.6" y2="278.2" stroke="#000" stroke-width="3.40" stroke-linecap="round"/><line x1="1969.6" y1="70.3" x2="1969.6" y2="68.3" stroke="#000" stroke-width="3.00" stroke-linecap="round"/><line x1="2015.0" y1="275.2" x2="2015.0" y2="279.7" stroke="#000" stroke-width="3.40" stroke-linecap="round"/><line x1="2015.0" y1="70.3" x2="2015.0" y2="68.3" stroke="#000" stroke-width="3.00" stroke-linecap="round"/><line x1="2060.4" y1="275.2" x2="2060.4" y2="278.2" stroke="#000" stroke-width="3.40" stroke-linecap="round"/><line x1="2060.4" y1="70.3" x2="2060.4" y2="68.3" stroke="#000" stroke-width="3.00" stroke-linecap="round"/><line x1="2105.8" y1="275.2" x2="2105.8" y2="279.7" stroke="#000" stroke-width="3.40" stroke-linecap="round"/><line x1="2105.8" y1="70.3" x2="2105.8" y2="68.3" stroke="#000" stroke-width="3.00" stroke-linecap="round"/><line x1="2151.2" y1="275.2" x2="2151.2" y2="278.2" stroke="#000" stroke-width="3.40" stroke-linecap="round"/><line x1="2151.2" y1="70.3" x2="2151.2" y2="68.3" stroke="#000" stroke-width="3.00" stroke-linecap="round"/><line x1="2196.6" y1="275.2" x2="2196.6" y2="279.7" stroke="#000" stroke-width="3.40" stroke-linecap="round"/><line x1="2196.6" y1="70.3" x2="2196.6" y2="68.3" stroke="#000" stroke-width="3.00" stroke-linecap="round"/><line x1="2242.0" y1="275.2" x2="2242.0" y2="278.2" stroke="#000" stroke-width="3.40" stroke-linecap="round"/><line x1="2242.0" y1="70.3" x2="2242.0" y2="68.3" stroke="#000" stroke-width="3.00" stroke-linecap="round"/><clipPath id="cf207"><path clip-rule="evenodd" d="M1711.5,109.0H2331.4V520.3H1711.5ZM2011.53,309.03H2019.72V320.31H2011.53ZM2023.44,309.03H2031.41V320.31H2023.44Z"/></clipPath><g clip-path="url(#cf207)"><text x="1996.0" y="314.2" font-family='"Liberation Sans", Arial, sans-serif' font-size="40.7" font-weight="normal" fill="#000">-1</text></g><text x="2095.3" y="314.2" font-family='"Liberation Sans", Arial, sans-serif' font-size="40.7" font-weight="normal" fill="#000">0</text><clipPath id="cf209"><path clip-rule="evenodd" d="M1887.6,109.0H2507.5V520.3H1887.6ZM2187.59,309.03H2195.78V320.31H2187.59ZM2199.49,309.03H2207.46V320.31H2199.49Z"/></clipPath><g clip-path="url(#cf209)"><text x="2185.6" y="314.2" font-family='"Liberation Sans", Arial, sans-serif' font-size="40.7" font-weight="normal" fill="#000">1</text></g><text x="1967.0" y="355.2" font-family='"Liberation Sans", Arial, sans-serif' font-size="40.7" font-weight="normal" fill="#000">Time delay (ps)</text><text x="0" y="0" transform="translate(1884.5 330.7) rotate(-90)" font-family='"Liberation Sans", Arial, sans-serif' font-size="40.7" font-weight="normal" fill="#000">Intensity (a.u.)</text><g fill="#000"><circle cx="1997.2" cy="254.5" r="1.75"/><circle cx="2000.2" cy="252.4" r="1.75"/><circle cx="2003.3" cy="250.4" r="1.75"/><circle cx="2007.9" cy="248.4" r="1.75"/><circle cx="2012.5" cy="246.3" r="1.75"/><circle cx="2016.6" cy="243.2" r="1.75"/><circle cx="2020.7" cy="240.2" r="1.75"/><circle cx="2023.4" cy="237.5" r="1.75"/><circle cx="2026.1" cy="234.7" r="1.75"/><circle cx="2028.8" cy="232.0" r="1.75"/><circle cx="2031.9" cy="227.9" r="1.75"/><circle cx="2035.0" cy="223.8" r="1.75"/><circle cx="2037.0" cy="220.4" r="1.75"/><circle cx="2039.1" cy="217.0" r="1.75"/><circle cx="2041.1" cy="213.6" r="1.75"/><circle cx="2042.8" cy="210.2" r="1.75"/><circle cx="2044.5" cy="206.8" r="1.75"/><circle cx="2046.2" cy="203.4" r="1.75"/><circle cx="2047.9" cy="199.3" r="1.75"/><circle cx="2049.6" cy="195.2" r="1.75"/><circle cx="2051.3" cy="191.1" r="1.75"/><circle cx="2052.7" cy="187.7" r="1.75"/><circle cx="2054.0" cy="184.3" r="1.75"/><circle cx="2055.4" cy="180.9" r="1.75"/><circle cx="2057.1" cy="177.5" r="1.75"/><circle cx="2058.8" cy="174.0" r="1.75"/><circle cx="2060.5" cy="170.6" r="1.75"/><circle cx="2062.2" cy="166.5" r="1.75"/><circle cx="2063.9" cy="162.5" r="1.75"/><circle cx="2065.6" cy="158.4" r="1.75"/><circle cx="2067.0" cy="155.0" r="1.75"/><circle cx="2068.3" cy="151.6" r="1.75"/><circle cx="2069.7" cy="148.2" r="1.75"/><circle cx="2071.8" cy="144.1" r="1.75"/><circle cx="2073.8" cy="140.0" r="1.75"/><circle cx="2075.9" cy="135.9" r="1.75"/><circle cx="2077.9" cy="131.8" r="1.75"/><circle cx="2079.9" cy="128.2" r="1.75"/><circle cx="2082.0" cy="124.6" r="1.75"/><circle cx="2084.1" cy="121.5" r="1.75"/><circle cx="2086.1" cy="118.5" r="1.75"/><circle cx="2088.1" cy="115.5" r="1.75"/><circle cx="2090.2" cy="112.4" r="1.75"/><circle cx="2092.8" cy="109.8" r="1.75"/><circle cx="2095.3" cy="107.3" r="1.75"/><circle cx="2098.9" cy="105.8" r="1.75"/><circle cx="2102.4" cy="104.2" r="1.75"/><circle cx="2107.2" cy="103.5" r="1.75"/><circle cx="2110.8" cy="105.7" r="1.75"/><circle cx="2114.5" cy="107.9" r="1.75"/><circle cx="2118.1" cy="111.5" r="1.75"/><circle cx="2121.7" cy="115.1" r="1.75"/><circle cx="2124.6" cy="118.7" r="1.75"/><circle cx="2127.5" cy="122.3" r="1.75"/><circle cx="2130.0" cy="126.7" r="1.75"/><circle cx="2132.5" cy="131.0" r="1.75"/><circle cx="2135.1" cy="135.3" r="1.75"/><circle cx="2137.6" cy="139.7" r="1.75"/><circle cx="2139.8" cy="143.3" r="1.75"/><circle cx="2142.0" cy="146.9" r="1.75"/><circle cx="2144.2" cy="150.9" r="1.75"/><circle cx="2146.3" cy="154.9" r="1.75"/><circle cx="2148.4" cy="158.9" r="1.75"/><circle cx="2150.6" cy="162.8" r="1.75"/><circle cx="2152.6" cy="166.5" r="1.75"/><circle cx="2154.6" cy="170.2" r="1.75"/><circle cx="2156.5" cy="173.8" r="1.75"/><circle cx="2158.5" cy="177.5" r="1.75"/><circle cx="2160.8" cy="181.3" r="1.75"/><circle cx="2163.0" cy="185.2" r="1.75"/><circle cx="2165.2" cy="189.0" r="1.75"/><circle cx="2167.5" cy="192.8" r="1.75"/><circle cx="2169.2" cy="196.1" r="1.75"/><circle cx="2170.8" cy="199.4" r="1.75"/><circle cx="2172.4" cy="202.8" r="1.75"/><circle cx="2174.1" cy="206.1" r="1.75"/><circle cx="2175.8" cy="209.4" r="1.75"/><circle cx="2177.4" cy="212.7" r="1.75"/><circle cx="2179.9" cy="216.1" r="1.75"/><circle cx="2182.4" cy="219.6" r="1.75"/><circle cx="2184.9" cy="223.1" r="1.75"/><circle cx="2187.4" cy="226.5" r="1.75"/><circle cx="2190.7" cy="229.5" r="1.75"/><circle cx="2194.0" cy="232.5" r="1.75"/><circle cx="2197.3" cy="235.5" r="1.75"/><circle cx="2200.9" cy="238.5" r="1.75"/><circle cx="2204.6" cy="241.4" r="1.75"/><circle cx="2208.2" cy="244.4" r="1.75"/></g><polyline points="1997.2,255.0 1999.0,253.9 2000.8,252.7 2002.6,251.5 2004.5,250.3 2006.3,248.9 2008.1,247.5 2009.9,246.0 2011.7,244.5 2013.5,242.9 2015.3,241.2 2017.2,239.4 2019.0,237.6 2020.8,235.7 2022.6,233.7 2024.4,231.6 2026.2,229.4 2028.0,227.1 2029.9,224.8 2031.7,222.4 2033.5,219.8 2035.3,217.2 2037.1,214.5 2038.9,211.7 2040.8,208.8 2042.6,205.8 2044.4,202.7 2046.2,199.6 2048.0,196.3 2049.8,193.0 2051.6,189.6 2053.5,186.2 2055.3,182.6 2057.1,179.1 2058.9,175.4 2060.7,171.8 2062.5,168.1 2064.3,164.4 2066.2,160.6 2068.0,156.9 2069.8,153.2 2071.6,149.5 2073.4,145.9 2075.2,142.3 2077.1,138.8 2078.9,135.4 2080.7,132.1 2082.5,128.9 2084.3,125.8 2086.1,122.9 2087.9,120.1 2089.8,117.6 2091.6,115.2 2093.4,113.0 2095.2,111.1 2097.0,109.4 2098.8,107.9 2100.6,106.7 2102.5,105.7 2104.3,105.0 2106.1,104.6 2107.9,104.5 2109.7,104.6 2111.5,105.0 2113.4,105.6 2115.2,106.6 2117.0,107.8 2118.8,109.2 2120.6,110.9 2122.4,112.8 2124.2,115.0 2126.1,117.3 2127.9,119.9 2129.7,122.6 2131.5,125.5 2133.3,128.6 2135.1,131.8 2136.9,135.1 2138.8,138.5 2140.6,142.0 2142.4,145.5 2144.2,149.2 2146.0,152.8 2147.8,156.6 2149.7,160.3 2151.5,164.0 2153.3,167.7 2155.1,171.4 2156.9,175.1 2158.7,178.7 2160.5,182.3 2162.4,185.8 2164.2,189.3 2166.0,192.7 2167.8,196.0 2169.6,199.2 2171.4,202.4 2173.2,205.5 2175.1,208.5 2176.9,211.4 2178.7,214.2 2180.5,216.9 2182.3,219.6 2184.1,222.1 2186.0,224.6 2187.8,226.9 2189.6,229.2 2191.4,231.4 2193.2,233.5 2195.0,235.5 2196.8,237.4 2198.7,239.3 2200.5,241.0 2202.3,242.7 2204.1,244.3 2205.9,245.9 2207.7,247.4" fill="none" stroke="#ff0000" stroke-width="1.30" stroke-linejoin="round" stroke-linecap="round" /><circle cx="1980.1" cy="81.7" r="3.2" fill="#000"/><text x="1995.8" y="91.1" font-family='"Liberation Serif", "Times New Roman", serif' font-size="27.3" font-weight="bold" fill="#000">Experiment</text><line x1="1971.1" y1="105.4" x2="1991.7" y2="105.4" stroke="#ff0000" stroke-width="1.20" stroke-linecap="butt"/><text x="1994.0" y="117.1" font-family='"Liberation Serif", "Times New Roman", serif' font-size="27.3" font-weight="bold" fill="#000">Sech</text><text x="2048.8" y="104.0" font-family='"Liberation Serif", "Times New Roman", serif' font-size="14" font-weight="bold" fill="#000">2</text><text x="2066.2" y="117.1" font-family='"Liberation Serif", "Times New Roman", serif' font-size="27.3" font-weight="bold" fill="#000">fit</text><text x="2146.3" y="110.0" font-family='"Liberation Serif", "Times New Roman", serif' font-size="37" font-weight="normal" fill="#000">∼</text><text x="2174.8" y="109.0" font-family='"Liberation Serif", "Times New Roman", serif' font-size="27.3" font-weight="bold" fill="#000">1.54</text><text x="2223.0" y="108.5" font-family='"Liberation Serif", "Times New Roman", serif' font-size="27.3" font-weight="normal" fill="#000">×</text><text x="2152.6" y="154.7" font-family='"Liberation Serif", "Times New Roman", serif' font-size="27.3" font-weight="bold" fill="#000">0.78 ps</text><line x1="1985.0" y1="187.8" x2="2040.0" y2="187.8" stroke="#000" stroke-width="4.00" stroke-linecap="round"/><path d="M2050.6,187.8 L2036,179.6 L2039.5,187.8 L2036,196 Z" fill="#000"/><line x1="2231.0" y1="187.8" x2="2176.0" y2="187.8" stroke="#000" stroke-width="4.00" stroke-linecap="round"/><path d="M2165.3,187.8 L2180,179.6 L2176.5,187.8 L2180,196 Z" fill="#000"/><polyline points="243.8,1418.1 244.7,1471.7 245.7,1427.6 246.8,1452.8 248.1,1449.4 249.5,1498.8 250.9,1456.9 253.0,1495.6 255.5,1454.8 258.6,1488.4 260.2,1475.9 261.8,1499.2 264.2,1478.4 266.8,1495.6 268.9,1471.1 270.7,1494.7 273.4,1466.3 275.5,1495.9 276.8,1457.3 279.8,1484.2 282.2,1464.5 284.4,1492.5 286.9,1456.5 289.0,1496.7 290.6,1475.2 292.1,1492.2 293.5,1472.2 296.4,1505.8 298.4,1457.7 300.0,1489.9 302.4,1471.9 304.4,1489.4 306.7,1515.6 309.5,1496.8 311.6,1452.6 313.2,1501.4 314.8,1515.2 317.3,1485.9 319.3,1477.2 321.5,1495.4 323.4,1475.5 324.7,1508.1 327.1,1477.8 330.0,1499.3 331.6,1459.2 333.5,1483.5 336.2,1517.4 339.5,920.3 340.0,1074.3 342.0,1250.9 343.7,1351.8 344.5,1402.3 345.4,1345.5 346.2,1421.2 346.7,1471.7 347.5,1440.2 348.4,1459.1 349.3,1434.5 351.0,1475.3 352.9,1451.5 355.0,1484.4 357.0,1455.9 358.7,1477.2 360.9,1422.7 363.9,1480.7 365.6,1442.4 368.7,1473.7 371.4,1457.1 374.4,1487.5 377.6,1455.8 379.1,1481.8 381.4,1453.8 384.3,1486.4 386.1,1463.8 387.6,1501.2 390.0,1453.6 392.3,1504.4 393.9,1466.6 396.1,1489.8 398.4,1457.1 400.8,1480.2 403.0,1460.6 405.2,1492.1 407.8,1467.3 410.9,1500.4 412.7,1468.1 414.2,1447.4 415.6,1464.6 417.2,1499.1 420.2,1455.9 422.3,1487.7 423.9,1463.6 425.5,1509.3 427.7,1468.6 429.9,1480.8 433.1,1513.1 434.9,1483.9 438.2,1519.5 441.5,911.4 442.0,1074.3 444.0,1250.9 445.7,1351.8 446.5,1402.3 447.4,1348.7 448.2,1421.2 448.7,1471.7 449.5,1440.2 450.4,1459.1 450.6,1442.7 453.0,1485.4 455.1,1444.4 457.9,1413.7 460.1,1445.5 461.9,1464.5 463.4,1451.8 465.3,1474.4 467.5,1491.7 468.8,1488.3 471.0,1447.6 473.2,1486.8 475.4,1455.4 478.3,1490.8 480.3,1430.2 482.0,1480.0 485.0,1453.0 486.9,1482.0 488.7,1445.7 490.4,1494.1 491.7,1460.3 493.4,1484.4 494.8,1502.4 496.6,1492.0 499.1,1462.6 501.0,1504.8 503.6,1476.0 506.0,1498.6 508.3,1464.6 511.2,1490.1 513.8,1468.6 515.8,1479.0 518.3,1457.1 519.6,1493.9 521.9,1456.7 523.7,1481.1 525.4,1461.8 527.4,1494.0 529.9,1464.5 531.7,1501.9 533.0,1478.0 535.6,1500.7 537.8,1470.4 539.9,1514.8 543.2,920.3 543.7,1074.3 545.7,1250.9 547.4,1351.8 548.2,1402.3 549.1,1339.2 549.9,1421.2 550.4,1471.7 551.2,1440.2 552.1,1459.1 553.4,1480.1 556.2,1430.5 557.9,1481.2 559.5,1448.9 562.3,1478.8 564.1,1484.1 566.3,1480.3 568.2,1499.0 571.2,1470.4 574.2,1456.3 577.4,1480.3 579.2,1460.3 581.0,1490.4 583.3,1462.2 586.3,1495.2 589.4,1507.6 591.5,1498.5 592.9,1456.2 594.9,1488.4 596.7,1462.9 598.7,1486.0 601.7,1463.0 604.9,1486.0 606.4,1463.0 608.2,1487.3 610.3,1461.5 612.2,1479.2 613.7,1463.3 615.4,1485.4 617.6,1457.6 618.9,1487.4 621.1,1466.3 624.2,1503.0 625.9,1476.9 628.5,1502.8 631.3,1513.0 633.0,1498.4 634.6,1465.9 636.1,1479.6 638.1,1505.6 640.3,1499.1 641.4,1518.7 644.7,911.4 645.2,1074.3 647.2,1250.9 648.9,1351.8 649.7,1402.3 650.6,1336.1 651.4,1421.2 651.9,1471.7 652.7,1440.2 653.6,1459.1 654.3,1446.9 656.9,1467.4 659.5,1446.6 662.6,1467.1 664.7,1440.9 667.4,1472.0 669.2,1439.0 672.0,1474.7 673.6,1457.6 676.8,1477.0 679.9,1436.5 682.9,1498.6 686.0,1467.4 688.7,1479.2 690.8,1500.4 692.7,1497.6 694.4,1459.7 696.5,1475.8 699.6,1463.5 700.9,1484.8 702.3,1466.6 704.1,1496.3 705.9,1454.0 708.5,1511.0 711.6,1503.0 713.8,1505.3 715.6,1469.9 717.2,1499.6 720.0,1463.2 722.0,1497.8 724.7,1509.0 726.6,1498.1 728.4,1467.6 731.1,1486.2 733.5,1461.2 736.1,1487.8 738.5,1472.3 740.2,1490.6 743.1,1516.9 746.4,907.2 746.9,1074.3 748.9,1250.9 750.6,1351.8 751.4,1402.3 752.3,1345.5 753.1,1421.2 753.6,1471.7 754.4,1440.2 755.3,1459.1 755.5,1435.1 757.8,1455.7 761.0,1446.2 763.9,1478.9 765.4,1455.8 768.5,1478.1 770.2,1449.7 772.7,1486.7 774.2,1464.2 776.8,1480.3 779.4,1463.5 782.2,1484.6 784.2,1452.7 785.8,1485.0 787.7,1443.6 789.7,1481.5 791.7,1464.2 793.0,1494.6 795.0,1452.5 796.4,1491.5 797.8,1461.7 799.4,1488.6 800.9,1467.7 802.5,1486.8 804.8,1473.7 807.8,1492.9 810.6,1468.6 813.5,1482.1 815.7,1462.7 818.4,1495.3 821.2,1470.7 823.6,1491.9 825.7,1463.9 827.9,1491.2 830.1,1475.2 832.3,1490.7 833.8,1471.8 836.1,1437.2 838.8,1468.0 840.9,1503.2 844.4,1515.8 847.7,899.3 848.2,1074.3 850.2,1250.9 851.9,1351.8 852.7,1402.3 853.6,1336.1 854.4,1421.2 854.9,1471.7 855.7,1440.2 856.6,1459.1 856.9,1434.6 860.1,1471.7 861.7,1422.5 864.4,1468.3 867.3,1456.5 869.0,1471.4 870.3,1456.9 872.9,1485.8 874.4,1447.6 877.4,1477.3 878.9,1439.2 881.7,1478.1 883.7,1450.4 886.4,1480.6 888.9,1452.1 890.8,1482.1 893.3,1466.8 894.8,1496.3 896.8,1471.7 899.2,1492.0 901.4,1465.2 903.0,1477.9 905.8,1508.5 908.1,1482.2 911.2,1454.4 912.6,1488.8 914.0,1454.9 917.1,1485.5 919.4,1466.2 921.3,1491.3 924.0,1464.9 926.8,1492.1 928.5,1505.6 931.2,1492.6 933.0,1460.7 935.3,1482.2 937.0,1451.9 938.8,1494.1 940.7,1452.5 943.7,1495.3 945.9,1515.8 949.2,913.5 949.7,1074.3 951.7,1250.9 953.4,1351.8 954.2,1402.3 955.1,1345.5 955.9,1421.2 956.4,1471.7 957.2,1440.2 958.1,1459.1 958.7,1436.1 961.6,1462.2 963.5,1410.4 965.0,1458.9 967.0,1492.3 969.5,1423.2 971.5,1441.3 972.9,1486.7 974.4,1500.6 977.2,1487.3 979.1,1464.8 980.8,1494.9 982.6,1456.6 985.7,1486.1 987.1,1462.4 989.0,1489.9 992.0,1463.1 993.3,1476.4 994.6,1456.2 996.2,1482.4 998.0,1445.8 1000.6,1483.8 1002.1,1454.4 1004.6,1486.2 1007.6,1501.6 1009.4,1503.7 1012.3,1473.8 1015.1,1499.4 1017.0,1470.9 1019.7,1484.2 1022.1,1468.5 1023.9,1481.6 1026.8,1466.4 1028.7,1486.9 1030.3,1451.1 1033.5,1483.4 1036.3,1462.0 1038.8,1488.1 1040.2,1472.5 1042.4,1499.9 1044.9,1470.4 1047.2,1518.0 1050.5,900.9 1051.0,1074.3 1053.0,1250.9 1054.7,1351.8 1055.5,1402.3 1056.4,1332.9 1057.2,1421.2 1057.7,1471.7 1058.5,1440.2 1059.4,1459.1 1059.8,1461.6 1061.5,1433.1 1064.2,1477.8 1066.3,1450.9 1068.4,1483.8 1070.2,1454.2 1072.3,1484.0 1074.8,1449.1 1078.0,1472.6 1080.8,1442.4 1083.2,1478.9 1085.7,1444.5 1088.8,1475.5 1091.6,1466.3 1093.0,1501.7 1095.1,1456.4 1096.8,1497.1 1098.5,1458.1 1100.0,1499.4" fill="none" stroke="#000" stroke-width="5.60" stroke-linejoin="round" stroke-linecap="round" /><polyline points="1406.3,1434.6 1409.4,1475.2 1412.2,1439.2 1415.0,1497.3 1417.1,1427.3 1419.2,1484.2 1422.0,1430.6 1424.0,1493.8 1426.3,1441.2 1428.9,1481.0 1431.7,1432.2 1434.3,1470.2 1437.5,1425.5 1439.9,1469.0 1442.0,1426.6 1445.1,1471.6 1448.2,1440.4 1451.3,1472.7 1453.8,1438.7 1456.8,1495.5 1460.0,1425.7 1462.4,1507.1 1464.6,1429.1 1466.8,1476.6 1469.7,1436.9 1471.9,1467.8 1474.9,1433.2 1477.2,1469.7 1480.0,1436.6 1482.3,1466.9 1484.7,1487.5 1487.5,1466.4 1489.9,1429.6 1492.6,1472.2 1494.8,1434.8 1497.8,1465.9 1500.8,1419.9 1504.0,1477.3 1506.5,1391.7 1508.8,1473.7 1511.9,1425.7 1514.1,1489.5 1516.8,1420.7 1519.2,1477.1 1521.2,1431.2 1522.2,1400.0 1523.3,1463.2 1526.0,1433.5 1529.1,1477.7 1532.0,1424.8 1534.0,1459.7 1536.9,1397.6 1539.6,1472.5 1542.8,1433.7 1545.7,1475.3 1548.6,1420.0 1551.1,1471.1 1554.2,1426.7 1557.3,1468.6 1559.8,1423.3 1561.9,1469.6 1565.0,1420.3 1567.9,1468.2 1571.0,1431.9 1573.0,1468.3 1575.3,1420.3 1578.1,1473.9 1580.1,1427.4 1582.4,1459.6 1585.2,1424.2 1587.6,1467.9 1589.1,1497.7 1590.2,1417.0 1593.3,1461.8 1595.7,1428.5 1598.8,1469.3 1602.0,1425.2 1604.5,1458.0 1607.1,1418.2 1609.5,1467.3 1612.1,1386.1 1614.1,1464.1 1616.5,1402.5 1619.1,1451.1 1621.4,1390.6 1624.0,1461.0 1627.0,1410.0 1629.2,1457.4 1631.3,1418.1 1633.5,1453.2 1636.4,1416.6 1639.3,1503.5 1639.3,1454.3 1642.5,1423.3 1645.4,1448.8 1648.2,1408.5 1650.9,1460.7 1654.1,1415.4 1656.4,1457.1 1659.2,1410.5 1662.3,1460.6 1665.0,1407.5 1668.2,1457.9 1670.3,1411.8 1673.2,1377.4 1675.3,1403.7 1677.8,1455.7 1680.0,1407.3 1683.0,1453.3 1685.7,1469.1 1688.3,1444.9 1691.1,1403.5 1693.8,1444.5 1696.9,1394.0 1700.0,1456.8 1702.7,1406.5 1705.4,1362.9 1708.0,1401.0 1710.7,1445.4 1712.8,1396.8 1716.0,1453.6 1718.6,1403.9 1721.7,1452.2 1724.1,1401.1 1727.2,1434.8 1729.3,1399.6 1732.1,1437.9 1734.9,1398.5 1737.1,1440.2 1739.3,1385.5 1741.8,1436.2 1744.0,1389.7 1746.8,1437.1 1749.6,1369.4 1752.6,1442.1 1755.0,1379.0 1756.5,1351.2 1757.2,1445.4 1759.4,1381.6 1760.6,1351.2 1761.8,1421.6 1764.3,1372.2 1766.8,1361.2 1769.7,1374.3 1771.1,1489.1 1771.8,1426.2 1772.4,1388.5 1774.5,1369.3 1776.6,1341.3 1779.2,1361.9 1781.5,1405.8 1781.6,1282.2 1782.8,1382.8 1784.7,1424.0 1787.9,1397.6 1790.3,1331.5 1792.0,1308.1 1792.9,1289.0 1795.9,1324.3 1798.9,1362.1 1801.1,1271.1 1802.5,1296.6 1804.1,1351.2 1806.9,1301.1 1809.6,1348.2 1810.8,1285.1 1811.9,1286.3 1814.9,1319.0 1816.5,1280.0 1819.0,1240.0 1820.5,1150.0 1821.8,1000.0 1823.0,936.0 1824.6,936.0 1826.0,1000.0 1827.0,1150.0 1828.5,1240.0 1831.0,1285.0 1832.3,1323.1 1835.2,1313.0 1837.8,1349.1 1840.6,1330.2 1843.8,1384.8 1846.4,1302.3 1846.6,1341.6 1849.1,1401.1 1852.0,1336.0 1854.0,1393.5 1856.4,1414.0 1856.9,1316.7 1858.9,1388.3 1862.0,1349.5 1865.2,1406.8 1865.2,1313.8 1868.0,1439.3 1871.0,1402.7 1873.2,1365.6 1875.8,1458.4 1878.4,1371.0 1880.8,1420.4 1883.6,1382.8 1885.9,1419.6 1886.2,1377.0 1888.0,1390.9 1890.5,1442.7 1892.6,1379.2 1894.7,1446.6 1897.3,1385.1 1899.9,1450.5 1902.5,1388.0 1905.3,1436.6 1907.9,1473.3 1910.0,1445.3 1912.6,1407.6 1915.2,1454.2 1918.4,1397.4 1920.7,1443.5 1923.7,1405.8 1926.1,1455.7 1928.8,1407.7 1931.1,1448.8 1934.2,1397.1 1936.6,1453.5 1938.7,1471.3 1941.6,1456.7 1944.0,1415.4 1946.5,1460.9 1948.6,1422.8 1951.4,1462.1 1953.9,1421.3 1956.4,1460.8 1958.8,1417.0 1962.0,1457.2 1964.1,1474.4 1966.8,1458.5 1969.2,1478.1 1972.0,1451.8 1975.0,1415.7 1977.1,1456.9 1979.6,1426.2 1982.3,1467.1 1985.5,1421.1 1987.9,1456.9 1991.1,1413.5 1993.5,1458.1 1996.0,1422.8 1998.7,1466.0 2001.8,1420.2 2004.8,1467.8 2006.8,1421.4 2009.5,1469.6 2012.5,1429.7 2015.5,1494.5 2018.7,1429.8 2020.9,1466.4 2023.2,1427.8 2025.8,1467.1 2028.3,1415.3 2030.9,1463.5 2033.8,1416.7 2036.8,1466.1 2039.9,1418.6 2043.1,1466.0 2046.0,1419.6 2048.5,1457.9 2051.8,1427.3 2054.0,1463.0 2057.3,1433.2 2059.4,1467.1 2061.6,1433.4 2064.4,1410.3 2066.6,1431.2 2069.5,1466.9 2071.8,1430.4 2074.7,1462.2 2077.8,1427.2 2080.9,1472.4 2083.6,1419.3 2085.9,1457.9 2088.9,1429.0 2091.5,1461.7 2094.4,1402.9 2096.8,1470.5 2099.6,1433.0 2102.0,1461.5 2104.7,1425.1 2107.0,1466.1 2110.0,1435.8 2113.1,1485.9 2116.0,1434.3 2118.6,1473.2 2121.7,1431.0 2124.2,1500.4 2124.6,1400.0 2126.5,1427.1 2128.7,1471.2 2131.1,1434.9 2133.7,1469.3 2136.5,1434.5 2139.1,1473.4 2141.9,1436.2 2144.8,1461.5 2147.4,1436.3 2150.4,1461.0 2152.8,1430.4 2155.2,1463.2 2158.0,1432.5 2161.0,1463.1 2163.7,1424.9 2166.7,1459.3 2168.9,1425.8 2171.1,1464.4 2173.8,1435.5 2176.1,1459.9 2178.2,1422.1 2180.8,1468.4 2183.8,1430.9 2186.4,1458.2 2189.3,1421.3 2191.6,1520.7 2192.1,1408.3 2194.5,1426.8 2197.0,1466.3 2200.1,1427.5 2203.0,1472.7 2205.5,1429.5 2208.4,1474.3 2211.3,1424.4 2214.5,1468.7 2216.6,1434.1 2219.5,1464.1 2221.9,1430.8 2225.2,1461.2 2227.9,1429.4 2230.2,1473.8 2233.2,1429.0 2236.3,1464.1" fill="none" stroke="#000" stroke-width="5.30" stroke-linejoin="round" stroke-linecap="round" /><line x1="1717.7" y1="933.0" x2="1798.7" y2="933.0" stroke="#000" stroke-width="8.00" stroke-linecap="round"/><line x1="1717.7" y1="1277.9" x2="1798.7" y2="1277.9" stroke="#000" stroke-width="8.00" stroke-linecap="round"/><line x1="1758.4" y1="955.0" x2="1758.4" y2="1256.0" stroke="#000" stroke-width="8.60" stroke-linecap="butt"/><path d="M1758.4,937 L1745,959.3 L1758.4,955.5 L1771.8,959.3 Z" fill="#000"/><path d="M1758.4,1274 L1744.6,1251 L1758.4,1254.5 L1772.2,1251 Z" fill="#000"/><text x="1544.6" y="1126.4" font-family='"Liberation Serif", "Times New Roman", serif' font-size="69" font-weight="normal" fill="#000">60 dB</text><rect x="1939.1" y="962.4" width="273.8" height="201.2" fill="#fff" stroke="none"/><line x1="1950.3" y1="988.7" x2="1950.3" y2="1100.0" stroke="#000" stroke-width="1.80" stroke-linecap="round"/><line x1="1961.6" y1="991.7" x2="1961.6" y2="1100.0" stroke="#000" stroke-width="1.80" stroke-linecap="round"/><line x1="1973.2" y1="992.7" x2="1973.2" y2="1100.0" stroke="#000" stroke-width="1.80" stroke-linecap="round"/><line x1="1984.7" y1="993.3" x2="1984.7" y2="1100.0" stroke="#000" stroke-width="1.80" stroke-linecap="round"/><line x1="1996.0" y1="994.1" x2="1996.0" y2="1100.0" stroke="#000" stroke-width="1.80" stroke-linecap="round"/><line x1="2008.0" y1="995.1" x2="2008.0" y2="1100.0" stroke="#000" stroke-width="1.80" stroke-linecap="round"/><line x1="2019.9" y1="996.3" x2="2019.9" y2="1100.0" stroke="#000" stroke-width="1.80" stroke-linecap="round"/><line x1="2031.5" y1="997.1" x2="2031.5" y2="1100.0" stroke="#000" stroke-width="1.80" stroke-linecap="round"/><line x1="2043.2" y1="997.7" x2="2043.2" y2="1100.0" stroke="#000" stroke-width="1.80" stroke-linecap="round"/><line x1="2054.7" y1="998.3" x2="2054.7" y2="1100.0" stroke="#000" stroke-width="1.80" stroke-linecap="round"/><line x1="2066.3" y1="998.7" x2="2066.3" y2="1100.0" stroke="#000" stroke-width="1.80" stroke-linecap="round"/><line x1="2077.8" y1="999.1" x2="2077.8" y2="1100.0" stroke="#000" stroke-width="1.80" stroke-linecap="round"/><line x1="2089.3" y1="999.5" x2="2089.3" y2="1100.0" stroke="#000" stroke-width="1.80" stroke-linecap="round"/><line x1="2101.1" y1="1000.3" x2="2101.1" y2="1100.0" stroke="#000" stroke-width="1.80" stroke-linecap="round"/><line x1="2112.8" y1="1000.7" x2="2112.8" y2="1100.0" stroke="#000" stroke-width="1.80" stroke-linecap="round"/><line x1="2124.4" y1="1001.3" x2="2124.4" y2="1100.0" stroke="#000" stroke-width="1.80" stroke-linecap="round"/><line x1="2136.3" y1="1001.7" x2="2136.3" y2="1100.0" stroke="#000" stroke-width="1.80" stroke-linecap="round"/><line x1="2147.8" y1="1001.3" x2="2147.8" y2="1100.0" stroke="#000" stroke-width="1.80" stroke-linecap="round"/><line x1="2159.8" y1="1000.7" x2="2159.8" y2="1100.0" stroke="#000" stroke-width="1.80" stroke-linecap="round"/><line x1="2171.1" y1="1000.7" x2="2171.1" y2="1100.0" stroke="#000" stroke-width="1.80" stroke-linecap="round"/><line x1="2182.6" y1="1000.3" x2="2182.6" y2="1100.0" stroke="#000" stroke-width="1.80" stroke-linecap="round"/><line x1="2194.0" y1="999.7" x2="2194.0" y2="1100.0" stroke="#000" stroke-width="1.80" stroke-linecap="round"/><line x1="2205.9" y1="999.7" x2="2205.9" y2="1100.0" stroke="#000" stroke-width="1.80" stroke-linecap="round"/><polyline points="1940.5,1034.4 1941.4,1140.5 1942.3,1046.0 1943.2,1135.1 1944.1,1056.5 1945.0,1154.9 1945.9,1065.7 1946.8,1140.8 1947.7,1073.7 1948.6,1142.8 1949.5,1080.1 1950.4,1136.9 1951.3,1084.8 1952.2,1154.5 1953.1,1084.1 1954.0,1139.5 1954.9,1086.2 1955.8,1139.5 1956.7,1081.3 1957.6,1137.0 1958.5,1086.1 1959.4,1158.8 1960.3,1087.2 1961.2,1154.6 1962.1,1084.7 1963.0,1148.9 1963.9,1085.2 1964.8,1140.1 1965.7,1086.9 1966.6,1135.9 1967.5,1089.3 1968.4,1136.6 1969.3,1086.3 1970.2,1139.6 1971.1,1085.9 1972.0,1140.7 1972.9,1084.6 1973.8,1139.9 1974.7,1086.2 1975.6,1140.1 1976.5,1089.4 1977.4,1140.0 1978.3,1088.0 1979.2,1139.0 1980.1,1088.4 1981.0,1138.9 1981.9,1087.7 1982.8,1141.4 1983.7,1086.8 1984.6,1140.4 1985.5,1086.6 1986.4,1138.7 1987.3,1087.4 1988.2,1151.2 1989.1,1087.3 1990.0,1140.4 1990.9,1087.6 1991.8,1137.6 1992.7,1089.4 1993.6,1136.6 1994.5,1086.6 1995.4,1137.9 1996.3,1086.7 1997.2,1138.2 1998.1,1088.4 1999.0,1138.6 1999.9,1082.5 2000.8,1137.0 2001.7,1086.8 2002.6,1136.5 2003.5,1083.8 2004.4,1139.2 2005.3,1089.1 2006.2,1152.5 2007.1,1088.0 2008.0,1135.9 2008.9,1087.0 2009.8,1135.4 2010.7,1083.6 2011.6,1152.2 2012.5,1089.3 2013.4,1135.9 2014.3,1082.9 2015.2,1135.3 2016.1,1088.9 2017.0,1137.9 2017.9,1084.8 2018.8,1140.5 2019.7,1085.8 2020.6,1135.8 2021.5,1088.2 2022.4,1139.0 2023.3,1085.7 2024.2,1141.3 2025.1,1089.3 2026.0,1139.9 2026.9,1086.3 2027.8,1137.3 2028.7,1087.7 2029.6,1138.6 2030.5,1083.7 2031.4,1139.6 2032.3,1087.6 2033.2,1137.2 2034.1,1085.3 2035.0,1137.9 2035.9,1089.2 2036.8,1135.7 2037.7,1087.9 2038.6,1135.5 2039.5,1086.3 2040.4,1152.7 2041.3,1089.2 2042.2,1135.4 2043.1,1084.7 2044.0,1135.6 2044.9,1089.2 2045.8,1136.5 2046.7,1084.8 2047.6,1149.8 2048.5,1089.1 2049.4,1137.9 2050.3,1087.6 2051.2,1148.3 2052.1,1084.9 2053.0,1145.5 2053.9,1082.6 2054.8,1137.2 2055.7,1088.3 2056.6,1138.4 2057.5,1087.8 2058.4,1144.8 2059.3,1085.3 2060.2,1144.3 2061.1,1085.2 2062.0,1136.4 2062.9,1086.2 2063.8,1149.5 2064.7,1086.7 2065.6,1137.8 2066.5,1088.3 2067.4,1135.6 2068.3,1080.5 2069.2,1137.4 2070.1,1085.5 2071.0,1137.1 2071.9,1088.7 2072.8,1146.4 2073.7,1085.0 2074.6,1139.1 2075.5,1084.5 2076.4,1145.7 2077.3,1086.4 2078.2,1139.9 2079.1,1087.9 2080.0,1139.1 2080.9,1084.9 2081.8,1139.3 2082.7,1080.9 2083.6,1140.4 2084.5,1088.2 2085.4,1136.4 2086.3,1086.5 2087.2,1140.5 2088.1,1085.0 2089.0,1140.3 2089.9,1085.8 2090.8,1136.3 2091.7,1088.9 2092.6,1140.4 2093.5,1087.5 2094.4,1150.9 2095.3,1087.7 2096.2,1140.7 2097.1,1087.7 2098.0,1143.2 2098.9,1080.2 2099.8,1139.8 2100.7,1089.3 2101.6,1136.2 2102.5,1084.3 2103.4,1135.7 2104.3,1087.9 2105.2,1139.6 2106.1,1085.1 2107.0,1137.3 2107.9,1088.0 2108.8,1150.0 2109.7,1082.6 2110.6,1138.2 2111.5,1085.0 2112.4,1135.1 2113.3,1083.5 2114.2,1137.8 2115.1,1084.4 2116.0,1138.6 2116.9,1082.6 2117.8,1140.0 2118.7,1089.5 2119.6,1150.7 2120.5,1085.9 2121.4,1145.4 2122.3,1089.0 2123.2,1155.5 2124.1,1089.2 2125.0,1139.5 2125.9,1085.3 2126.8,1135.7 2127.7,1086.3 2128.6,1138.4 2129.5,1088.2 2130.4,1139.6 2131.3,1083.6 2132.2,1135.1 2133.1,1087.8 2134.0,1140.6 2134.9,1086.0 2135.8,1138.2 2136.7,1086.0 2137.6,1138.4 2138.5,1084.8 2139.4,1136.7 2140.3,1085.8 2141.2,1136.5 2142.1,1086.7 2143.0,1138.4 2143.9,1082.6 2144.8,1138.7 2145.7,1085.1 2146.6,1138.9 2147.5,1084.8 2148.4,1136.8 2149.3,1089.0 2150.2,1146.2 2151.1,1087.6 2152.0,1137.7 2152.9,1085.2 2153.8,1138.3 2154.7,1088.4 2155.6,1140.3 2156.5,1082.6 2157.4,1138.8 2158.3,1084.7 2159.2,1136.6 2160.1,1085.0 2161.0,1152.6 2161.9,1088.5 2162.8,1135.2 2163.7,1085.0 2164.6,1147.1 2165.5,1084.9 2166.4,1138.3 2167.3,1085.5 2168.2,1140.5 2169.1,1081.4 2170.0,1140.5 2170.9,1085.9 2171.8,1152.4 2172.7,1088.1 2173.6,1137.7 2174.5,1081.0 2175.4,1150.0 2176.3,1086.2 2177.2,1140.5 2178.1,1088.9 2179.0,1135.8 2179.9,1088.1 2180.8,1139.0 2181.7,1087.9 2182.6,1149.6 2183.5,1084.5 2184.4,1145.0 2185.3,1089.4 2186.2,1145.1 2187.1,1084.6 2188.0,1137.6 2188.9,1086.4 2189.8,1135.4 2190.7,1080.2 2191.6,1139.8 2192.5,1084.6 2193.4,1138.7 2194.3,1087.6 2195.2,1144.6 2196.1,1081.2 2197.0,1137.3 2197.9,1089.0 2198.8,1137.5 2199.7,1088.0 2200.6,1140.5 2201.5,1087.8 2202.4,1136.1 2203.3,1087.9 2204.2,1137.2 2205.1,1082.6 2206.0,1135.0 2206.9,1088.7 2207.8,1135.4 2208.7,1086.9 2209.6,1138.2 2210.5,1086.7 2211.4,1148.7" fill="none" stroke="#000" stroke-width="1.30" stroke-linejoin="miter" stroke-linecap="butt" /><rect x="1941" y="1092" width="270" height="42" fill="#000"/><rect x="1939.1" y="962.4" width="273.8" height="201.2" fill="none" stroke="#000" stroke-width="3.7"/><line x1="1934.6" y1="984.1" x2="1939.1" y2="984.1" stroke="#000" stroke-width="3.40" stroke-linecap="round"/><text x="1875.3" y="995.5" font-family='"Liberation Sans", Arial, sans-serif' font-size="40.7" font-weight="normal" fill="#000">-40</text><line x1="1934.6" y1="1019.9" x2="1939.1" y2="1019.9" stroke="#000" stroke-width="3.40" stroke-linecap="round"/><text x="1875.3" y="1031.3" font-family='"Liberation Sans", Arial, sans-serif' font-size="40.7" font-weight="normal" fill="#000">-60</text><line x1="1934.6" y1="1055.7" x2="1939.1" y2="1055.7" stroke="#000" stroke-width="3.40" stroke-linecap="round"/><text x="1875.3" y="1067.1" font-family='"Liberation Sans", Arial, sans-serif' font-size="40.7" font-weight="normal" fill="#000">-80</text><line x1="1934.6" y1="1091.5" x2="1939.1" y2="1091.5" stroke="#000" stroke-width="3.40" stroke-linecap="round"/><clipPath id="cf270"><path clip-rule="evenodd" d="M1567.8,897.7H2187.7V1309.0H1567.8ZM1867.83,1097.73H1876.02V1109.01H1867.83ZM1879.74,1097.73H1887.71V1109.01H1879.74Z"/></clipPath><g clip-path="url(#cf270)"><text x="1852.3" y="1102.9" font-family='"Liberation Sans", Arial, sans-serif' font-size="40.7" font-weight="normal" fill="#000">-100</text></g><line x1="1934.6" y1="1127.3" x2="1939.1" y2="1127.3" stroke="#000" stroke-width="3.40" stroke-linecap="round"/><clipPath id="cf272"><path clip-rule="evenodd" d="M1567.8,933.5H2187.7V1344.8H1567.8ZM1867.83,1133.53H1876.02V1144.80H1867.83ZM1879.74,1133.53H1887.71V1144.80H1879.74Z"/></clipPath><g clip-path="url(#cf272)"><text x="1852.3" y="1138.7" font-family='"Liberation Sans", Arial, sans-serif' font-size="40.7" font-weight="normal" fill="#000">-120</text></g><line x1="1934.6" y1="1163.1" x2="1939.1" y2="1163.1" stroke="#000" stroke-width="3.40" stroke-linecap="round"/><clipPath id="cf274"><path clip-rule="evenodd" d="M1567.8,969.3H2187.7V1380.6H1567.8ZM1867.83,1169.33H1876.02V1180.61H1867.83ZM1879.74,1169.33H1887.71V1180.61H1879.74Z"/></clipPath><g clip-path="url(#cf274)"><text x="1852.3" y="1174.5" font-family='"Liberation Sans", Arial, sans-serif' font-size="40.7" font-weight="normal" fill="#000">-140</text></g><line x1="1936.1" y1="966.2" x2="1939.1" y2="966.2" stroke="#000" stroke-width="3.40" stroke-linecap="round"/><line x1="1936.1" y1="1002.0" x2="1939.1" y2="1002.0" stroke="#000" stroke-width="3.40" stroke-linecap="round"/><line x1="1936.1" y1="1037.8" x2="1939.1" y2="1037.8" stroke="#000" stroke-width="3.40" stroke-linecap="round"/><line x1="1936.1" y1="1073.6" x2="1939.1" y2="1073.6" stroke="#000" stroke-width="3.40" stroke-linecap="round"/><line x1="1936.1" y1="1109.4" x2="1939.1" y2="1109.4" stroke="#000" stroke-width="3.40" stroke-linecap="round"/><line x1="1936.1" y1="1145.2" x2="1939.1" y2="1145.2" stroke="#000" stroke-width="3.40" stroke-linecap="round"/><line x1="1939.1" y1="1163.6" x2="1939.1" y2="1168.1" stroke="#000" stroke-width="3.40" stroke-linecap="round"/><text x="1928.6" y="1203.7" font-family='"Liberation Sans", Arial, sans-serif' font-size="40.7" font-weight="normal" fill="#000">0</text><line x1="2006.9" y1="1163.6" x2="2006.9" y2="1168.1" stroke="#000" stroke-width="3.40" stroke-linecap="round"/><text x="1973.9" y="1203.7" font-family='"Liberation Sans", Arial, sans-serif' font-size="40.7" font-weight="normal" fill="#000">250</text><line x1="2075.5" y1="1163.6" x2="2075.5" y2="1168.1" stroke="#000" stroke-width="3.40" stroke-linecap="round"/><text x="2042.5" y="1203.7" font-family='"Liberation Sans", Arial, sans-serif' font-size="40.7" font-weight="normal" fill="#000">500</text><line x1="2144.5" y1="1163.6" x2="2144.5" y2="1168.1" stroke="#000" stroke-width="3.40" stroke-linecap="round"/><text x="2111.5" y="1203.7" font-family='"Liberation Sans", Arial, sans-serif' font-size="40.7" font-weight="normal" fill="#000">750</text><line x1="2212.9" y1="1163.6" x2="2212.9" y2="1168.1" stroke="#000" stroke-width="3.40" stroke-linecap="round"/><clipPath id="cf290"><path clip-rule="evenodd" d="M1869.9,998.5H2489.8V1409.8H1869.9ZM2169.89,1198.53H2178.07V1209.80H2169.89ZM2181.79,1198.53H2189.76V1209.80H2181.79Z"/></clipPath><g clip-path="url(#cf290)"><text x="2167.9" y="1203.7" font-family='"Liberation Sans", Arial, sans-serif' font-size="40.7" font-weight="normal" fill="#000">1000</text></g><line x1="1973.0" y1="1163.6" x2="1973.0" y2="1166.6" stroke="#000" stroke-width="3.40" stroke-linecap="round"/><line x1="2041.2" y1="1163.6" x2="2041.2" y2="1166.6" stroke="#000" stroke-width="3.40" stroke-linecap="round"/><line x1="2110.0" y1="1163.6" x2="2110.0" y2="1166.6" stroke="#000" stroke-width="3.40" stroke-linecap="round"/><line x1="2178.7" y1="1163.6" x2="2178.7" y2="1166.6" stroke="#000" stroke-width="3.40" stroke-linecap="round"/><text x="1918.5" y="1251.3" font-family='"Liberation Sans", Arial, sans-serif' font-size="40.7" font-weight="normal" fill="#000">Frequency (MHz)</text><text x="0" y="0" transform="translate(1856.0 1226.5) rotate(-90)" font-family='"Liberation Sans", Arial, sans-serif' font-size="40.7" font-weight="normal" fill="#000">Intensity (dBm)</text></svg></body></html>
